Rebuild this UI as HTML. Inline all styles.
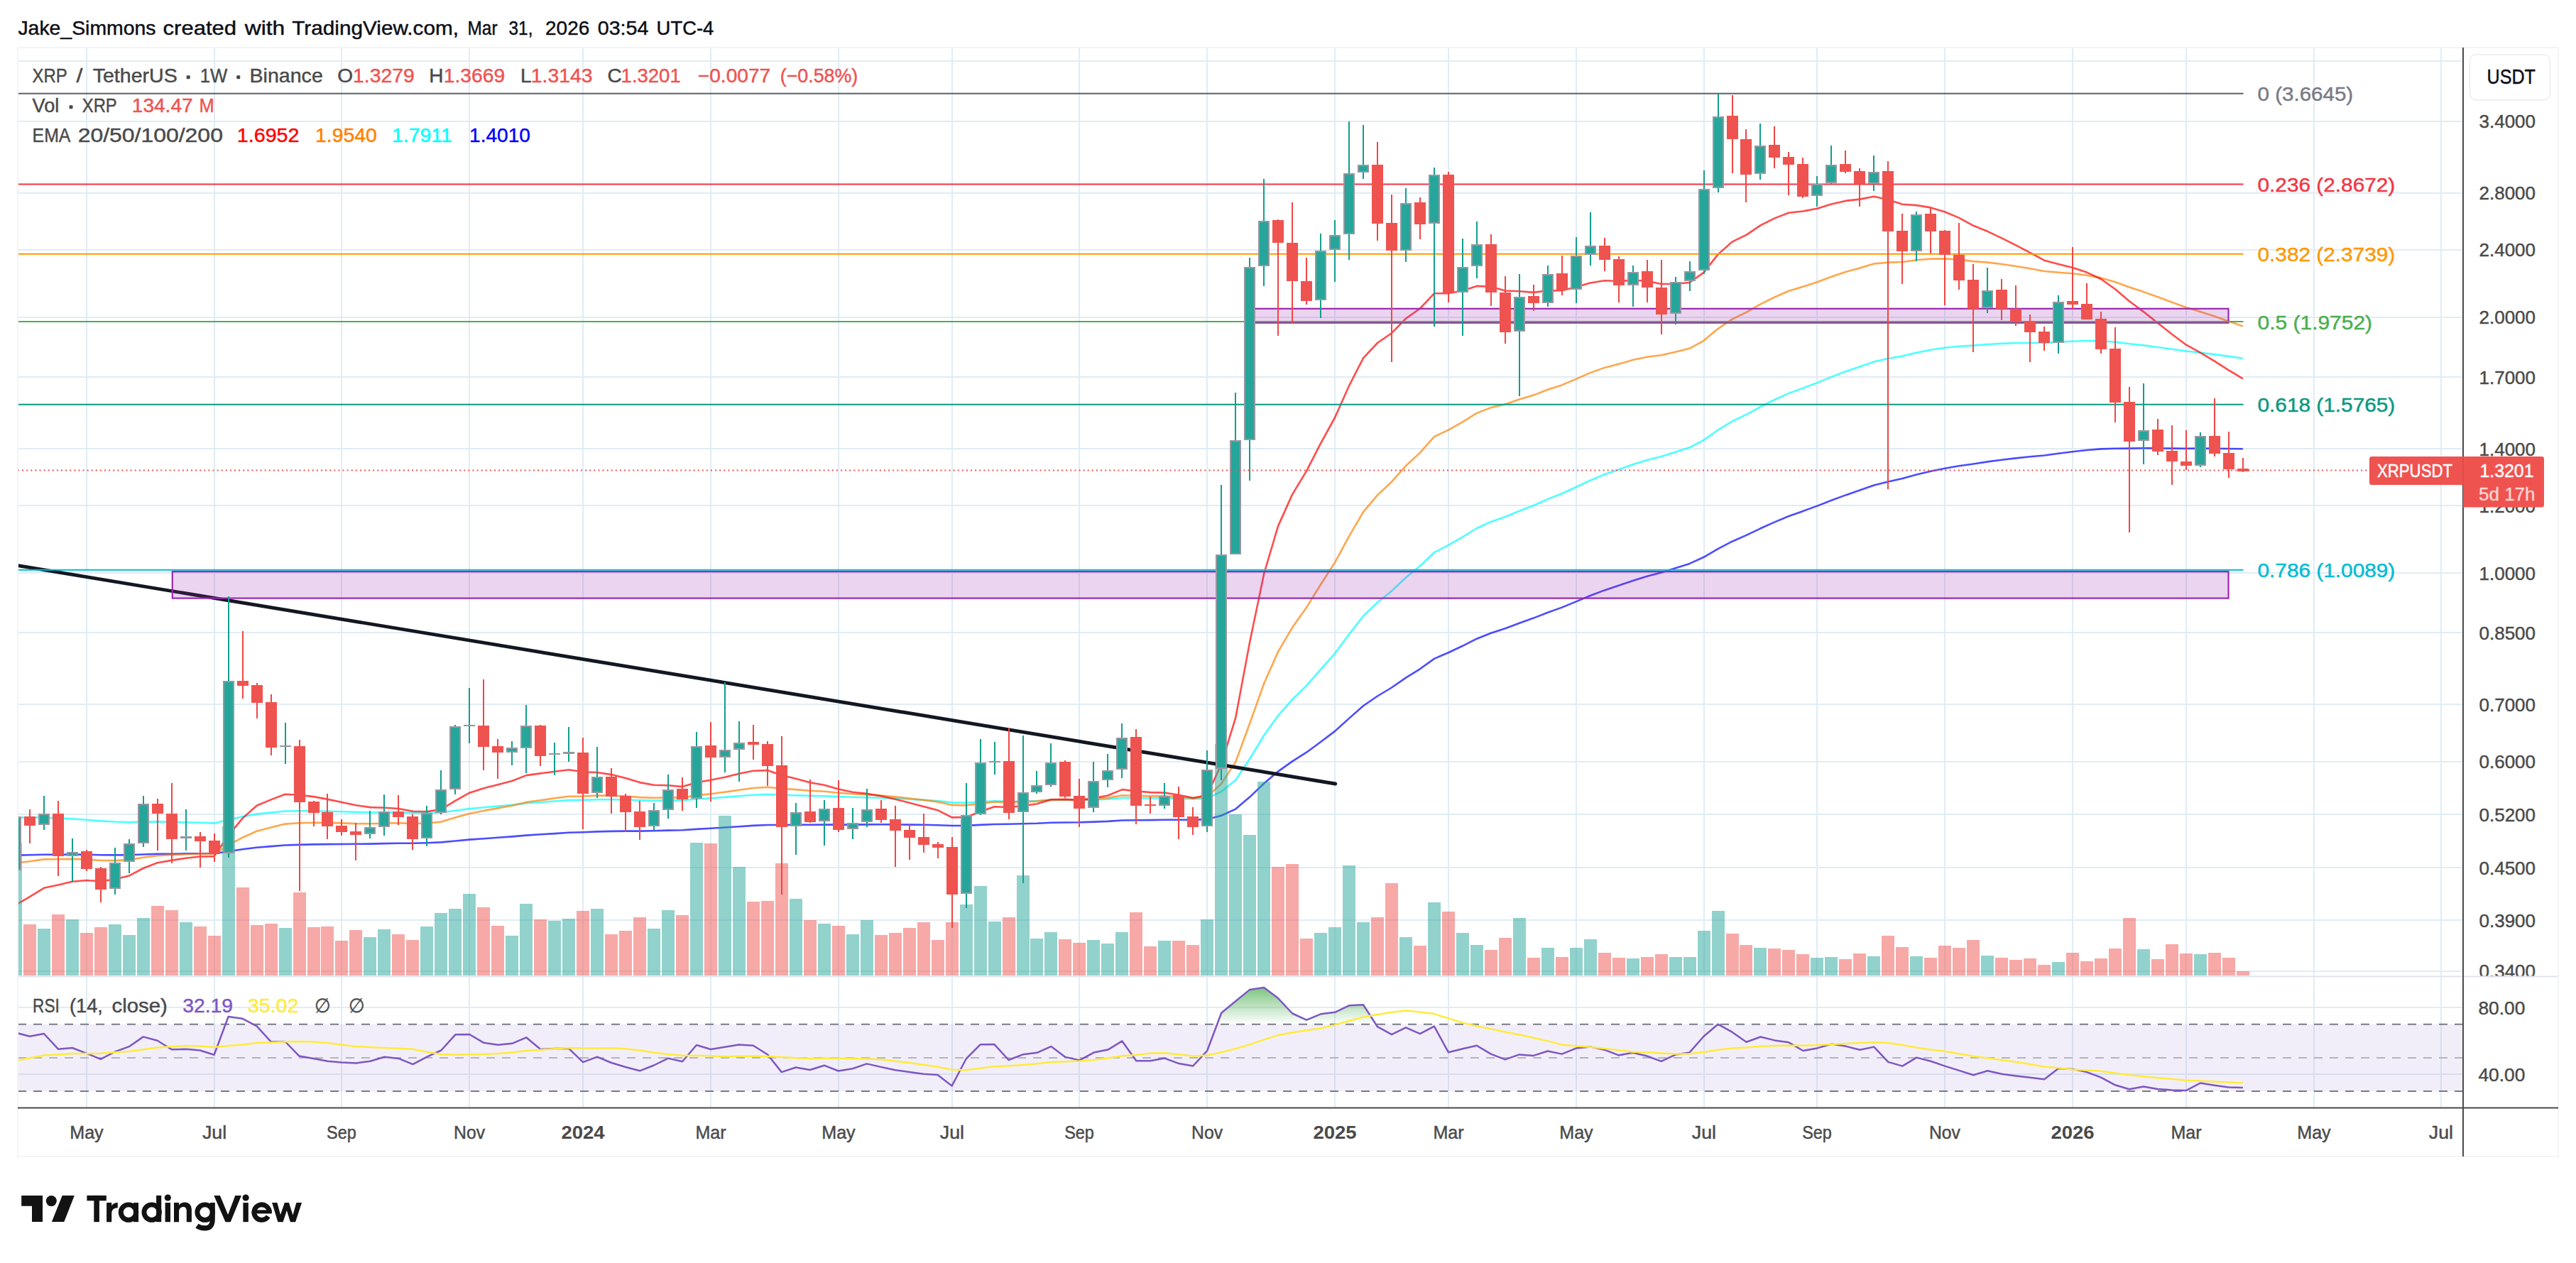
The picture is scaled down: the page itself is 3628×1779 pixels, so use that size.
<!DOCTYPE html>
<html><head><meta charset="utf-8"><title>XRPUSDT chart</title>
<style>html,body{margin:0;padding:0;background:#fff;overflow:hidden;width:3628px;height:1779px}svg{display:block}text{font-family:'Liberation Sans', sans-serif;}</style>
</head><body>
<svg width="3628" height="1779" viewBox="0 0 3628 1779">
<rect x="0" y="0" width="3628" height="1779" fill="#fff"/>
<rect x="25" y="67" width="3578" height="1562" fill="none" stroke="#f3f4f6" stroke-width="2"/>
<g stroke="#e1ecf4" stroke-width="2" shape-rendering="crispEdges">
<line x1="122" y1="68" x2="122" y2="1560"/>
<line x1="302" y1="68" x2="302" y2="1560"/>
<line x1="481" y1="68" x2="481" y2="1560"/>
<line x1="661" y1="68" x2="661" y2="1560"/>
<line x1="821" y1="68" x2="821" y2="1560"/>
<line x1="1001" y1="68" x2="1001" y2="1560"/>
<line x1="1181" y1="68" x2="1181" y2="1560"/>
<line x1="1341" y1="68" x2="1341" y2="1560"/>
<line x1="1520" y1="68" x2="1520" y2="1560"/>
<line x1="1700" y1="68" x2="1700" y2="1560"/>
<line x1="1880" y1="68" x2="1880" y2="1560"/>
<line x1="2040" y1="68" x2="2040" y2="1560"/>
<line x1="2220" y1="68" x2="2220" y2="1560"/>
<line x1="2400" y1="68" x2="2400" y2="1560"/>
<line x1="2559" y1="68" x2="2559" y2="1560"/>
<line x1="2739" y1="68" x2="2739" y2="1560"/>
<line x1="2919" y1="68" x2="2919" y2="1560"/>
<line x1="3079" y1="68" x2="3079" y2="1560"/>
<line x1="3259" y1="68" x2="3259" y2="1560"/>
<line x1="3438" y1="68" x2="3438" y2="1560"/>
<line x1="26" y1="86" x2="3469" y2="86"/>
<line x1="26" y1="171" x2="3469" y2="171"/>
<line x1="26" y1="272" x2="3469" y2="272"/>
<line x1="26" y1="352" x2="3469" y2="352"/>
<line x1="26" y1="447" x2="3469" y2="447"/>
<line x1="26" y1="531" x2="3469" y2="531"/>
<line x1="26" y1="632" x2="3469" y2="632"/>
<line x1="26" y1="712" x2="3469" y2="712"/>
<line x1="26" y1="807" x2="3469" y2="807"/>
<line x1="26" y1="891" x2="3469" y2="891"/>
<line x1="26" y1="992" x2="3469" y2="992"/>
<line x1="26" y1="1073" x2="3469" y2="1073"/>
<line x1="26" y1="1147" x2="3469" y2="1147"/>
<line x1="26" y1="1222" x2="3469" y2="1222"/>
<line x1="26" y1="1296" x2="3469" y2="1296"/>
<line x1="26" y1="1368" x2="3469" y2="1368"/>
<line x1="26" y1="1419" x2="3469" y2="1419"/>
<line x1="26" y1="1513" x2="3469" y2="1513"/>
</g>
<line x1="26" y1="1375.5" x2="3603" y2="1375.5" stroke="#e0e3eb" stroke-width="2"/>
<defs><clipPath id="cm"><rect x="26" y="68" width="3443" height="1306.5"/></clipPath><clipPath id="cr"><rect x="26" y="1376.5" width="3443" height="183.0"/></clipPath><linearGradient id="gg" gradientUnits="userSpaceOnUse" x1="0" y1="1372.0" x2="0" y2="1442.7"><stop offset="0" stop-color="#4caf50" stop-opacity="1"/><stop offset="1" stop-color="#4caf50" stop-opacity="0"/></linearGradient></defs>
<g clip-path="url(#cm)">
<polyline points="21.9,1204.7 41.9,1204.3 61.9,1203.7 81.9,1203.7 101.8,1203.6 121.8,1203.8 141.8,1204.3 161.8,1204.4 181.8,1204.2 201.7,1203.5 221.7,1202.9 241.7,1202.7 261.7,1202.4 281.7,1202.2 301.6,1202.3 321.6,1199.2 341.6,1196.3 361.6,1193.7 381.6,1192.1 401.5,1190.5 421.5,1189.9 441.5,1189.4 461.5,1189.1 481.5,1189.0 501.4,1188.8 521.4,1188.6 541.4,1188.1 561.4,1187.7 581.4,1187.7 601.3,1187.2 621.3,1186.4 641.3,1184.5 661.3,1182.6 681.3,1181.2 701.2,1179.8 721.2,1178.4 741.2,1176.6 761.2,1175.3 781.2,1174.1 801.1,1172.8 821.1,1172.2 841.1,1171.4 861.1,1170.9 881.1,1170.6 901.0,1170.6 921.0,1170.3 941.0,1169.6 961.0,1169.2 981.0,1167.9 1000.9,1166.8 1020.9,1165.5 1040.9,1164.2 1060.9,1162.9 1080.9,1162.0 1100.8,1162.0 1120.8,1161.8 1140.8,1161.8 1160.8,1161.6 1180.8,1161.6 1200.7,1161.6 1220.7,1161.4 1240.7,1161.3 1260.7,1161.4 1280.7,1161.6 1300.6,1161.8 1320.6,1162.2 1340.6,1163.0 1360.6,1162.9 1380.6,1161.9 1400.5,1161.0 1420.5,1160.8 1440.5,1160.3 1460.5,1159.8 1480.5,1158.8 1500.4,1158.5 1520.4,1158.3 1540.4,1157.6 1560.4,1156.9 1580.4,1155.5 1600.3,1155.3 1620.3,1155.1 1640.3,1154.8 1660.3,1154.7 1680.3,1154.8 1700.2,1154.1 1720.2,1148.7 1740.2,1139.6 1760.2,1122.6 1780.2,1103.5 1800.1,1086.6 1820.1,1072.4 1840.1,1059.7 1860.1,1045.0 1880.1,1029.9 1900.0,1011.9 1920.0,994.2 1940.0,980.5 1960.0,968.5 1980.0,954.6 1999.9,942.3 2019.9,927.9 2039.9,919.2 2059.9,909.8 2079.9,899.7 2099.8,891.7 2119.8,885.2 2139.8,877.7 2159.8,870.6 2179.8,862.7 2199.7,855.6 2219.7,847.4 2239.7,839.0 2259.7,831.4 2279.7,824.8 2299.6,817.9 2319.6,811.7 2339.6,806.4 2359.6,800.2 2379.6,793.9 2399.5,784.8 2419.5,773.1 2439.5,762.7 2459.5,753.9 2479.5,744.3 2499.4,735.4 2519.4,727.0 2539.4,719.9 2559.4,712.6 2579.4,704.8 2599.3,697.4 2619.3,690.6 2639.3,683.6 2659.3,678.5 2679.3,674.0 2699.2,668.6 2719.2,663.8 2739.2,659.7 2759.2,656.3 2779.2,653.5 2799.1,650.4 2819.1,647.8 2839.1,645.4 2859.1,643.3 2879.1,641.5 2899.0,638.8 2919.0,636.2 2939.0,634.0 2959.0,632.4 2979.0,631.7 2998.9,631.6 3018.9,631.3 3038.9,631.4 3058.9,631.6 3078.9,631.8 3098.8,631.6 3118.8,631.7 3138.8,632.0 3158.8,632.3" fill="none" stroke="#0000ff" stroke-opacity="0.7" stroke-width="2.6" stroke-linejoin="round"/>
<polyline points="21.9,1151.3 41.9,1151.5 61.9,1151.4 81.9,1152.5 101.8,1153.4 121.8,1154.7 141.8,1156.4 161.8,1157.5 181.8,1158.1 201.7,1157.6 221.7,1157.4 241.7,1157.8 261.7,1158.3 281.7,1158.8 301.6,1159.6 321.6,1154.8 341.6,1150.3 361.6,1146.6 381.6,1144.6 401.5,1142.5 421.5,1142.3 441.5,1142.3 461.5,1142.7 481.5,1143.3 501.4,1143.9 521.4,1144.3 541.4,1144.3 561.4,1144.4 581.4,1145.2 601.3,1145.2 621.3,1144.5 641.3,1141.8 661.3,1139.1 681.3,1137.3 701.2,1135.6 721.2,1133.8 741.2,1131.4 761.2,1130.0 781.2,1128.5 801.1,1127.1 821.1,1126.9 841.1,1126.3 861.1,1126.2 881.1,1126.5 901.0,1127.2 921.0,1127.5 941.0,1127.2 961.0,1127.2 981.0,1125.5 1000.9,1124.3 1020.9,1122.9 1040.9,1121.2 1060.9,1119.7 1080.9,1118.8 1100.8,1119.7 1120.8,1120.2 1140.8,1120.9 1160.8,1121.2 1180.8,1122.1 1200.7,1122.8 1220.7,1123.2 1240.7,1123.8 1260.7,1124.6 1280.7,1125.7 1300.6,1126.9 1320.6,1128.1 1340.6,1130.4 1360.6,1130.8 1380.6,1129.6 1400.5,1128.4 1420.5,1128.7 1440.5,1128.5 1460.5,1128.0 1480.5,1126.9 1500.4,1126.8 1520.4,1127.0 1540.4,1126.5 1560.4,1125.6 1580.4,1123.7 1600.3,1124.0 1620.3,1124.2 1640.3,1124.1 1660.3,1124.6 1680.3,1125.4 1700.2,1124.5 1720.2,1115.0 1740.2,1098.8 1760.2,1068.7 1780.2,1035.8 1800.1,1007.8 1820.1,985.2 1840.1,965.6 1860.1,942.9 1880.1,920.3 1900.0,893.4 1920.0,867.7 1940.0,848.5 1960.0,832.4 1980.0,813.5 1999.9,797.3 2019.9,778.2 2039.9,767.8 2059.9,756.3 2079.9,744.0 2099.8,734.9 2119.8,728.0 2139.8,719.7 2159.8,712.0 2179.8,703.1 2199.7,695.3 2219.7,686.0 2239.7,676.6 2259.7,668.3 2279.7,661.4 2299.6,654.2 2319.6,647.9 2339.6,642.9 2359.6,636.7 2379.6,630.3 2399.5,619.9 2419.5,605.7 2439.5,593.5 2459.5,583.8 2479.5,572.8 2499.4,563.0 2519.4,553.9 2539.4,546.7 2559.4,539.1 2579.4,530.9 2599.3,523.3 2619.3,516.5 2639.3,509.4 2659.3,505.0 2679.3,501.6 2699.2,496.8 2719.2,492.8 2739.2,489.8 2759.2,487.7 2779.2,486.6 2799.1,485.0 2819.1,483.9 2839.1,483.3 2859.1,483.0 2879.1,483.0 2899.0,481.8 2919.0,480.7 2939.0,480.0 2959.0,480.2 2979.0,481.8 2998.9,484.3 3018.9,486.4 3038.9,489.0 3058.9,491.7 3078.9,494.5 3098.8,496.7 3118.8,499.1 3138.8,501.9 3158.8,504.7" fill="none" stroke="#00ffff" stroke-opacity="0.7" stroke-width="2.6" stroke-linejoin="round"/>
<polyline points="21.9,1215.4 41.9,1213.2 61.9,1210.4 81.9,1210.3 101.8,1209.9 121.8,1210.4 141.8,1212.0 161.8,1212.1 181.8,1211.1 201.7,1207.8 221.7,1205.3 241.7,1204.3 261.7,1203.3 281.7,1202.6 301.6,1202.6 321.6,1190.6 341.6,1179.7 361.6,1170.7 381.6,1165.6 401.5,1160.6 421.5,1159.3 441.5,1158.8 461.5,1158.9 481.5,1159.4 501.4,1160.1 521.4,1160.3 541.4,1159.6 561.4,1159.2 581.4,1160.1 601.3,1159.5 621.3,1157.6 641.3,1151.6 661.3,1145.9 681.3,1141.9 701.2,1138.4 721.2,1134.8 741.2,1129.9 761.2,1127.2 781.2,1124.4 801.1,1121.8 821.1,1121.6 841.1,1120.5 861.1,1120.6 881.1,1121.5 901.0,1123.1 921.0,1123.8 941.0,1123.3 961.0,1123.4 981.0,1120.4 1000.9,1118.2 1020.9,1115.6 1040.9,1112.7 1060.9,1110.0 1080.9,1108.7 1100.8,1110.8 1120.8,1112.1 1140.8,1113.8 1160.8,1114.7 1180.8,1116.8 1200.7,1118.3 1220.7,1119.2 1240.7,1120.5 1260.7,1122.4 1280.7,1124.5 1300.6,1126.9 1320.6,1129.4 1340.6,1133.9 1360.6,1134.4 1380.6,1132.0 1400.5,1129.5 1420.5,1130.1 1440.5,1129.6 1460.5,1128.6 1480.5,1126.4 1500.4,1126.2 1520.4,1126.7 1540.4,1125.6 1560.4,1123.9 1580.4,1120.3 1600.3,1120.9 1620.3,1121.4 1640.3,1121.4 1660.3,1122.5 1680.3,1124.1 1700.2,1122.4 1720.2,1103.8 1740.2,1073.4 1760.2,1018.8 1780.2,962.7 1800.1,917.9 1820.1,883.8 1840.1,855.6 1860.1,823.3 1880.1,792.1 1900.0,755.3 1920.0,721.1 1940.0,697.4 1960.0,678.7 1980.0,656.1 1999.9,637.6 2019.9,615.2 2039.9,605.6 2059.9,594.4 2079.9,581.9 2099.8,574.1 2119.8,569.5 2139.8,562.6 2159.8,556.6 2179.8,548.7 2199.7,542.4 2219.7,533.9 2239.7,525.1 2259.7,517.9 2279.7,512.8 2299.6,507.1 2319.6,502.7 2339.6,500.2 2359.6,495.7 2379.6,490.8 2399.5,479.8 2419.5,463.1 2439.5,449.6 2459.5,439.9 2479.5,428.3 2499.4,418.5 2519.4,409.7 2539.4,403.8 2559.4,397.3 2579.4,389.7 2599.3,383.0 2619.3,377.6 2639.3,371.5 2659.3,369.6 2679.3,369.0 2699.2,366.2 2719.2,364.6 2739.2,364.4 2759.2,365.5 2779.2,368.1 2799.1,369.6 2819.1,372.0 2839.1,375.0 2859.1,378.3 2879.1,382.0 2899.0,383.7 2919.0,385.3 2939.0,387.7 2959.0,391.4 2979.0,397.3 2998.9,404.5 3018.9,411.1 3038.9,418.3 3058.9,425.7 3078.9,433.0 3098.8,439.1 3118.8,445.6 3138.8,452.6 3158.8,459.4" fill="none" stroke="#ff8000" stroke-opacity="0.7" stroke-width="2.6" stroke-linejoin="round"/>
<polyline points="21.9,1274.9 41.9,1263.1 61.9,1250.8 81.9,1246.4 101.8,1241.8 121.8,1240.0 141.8,1241.2 161.8,1238.6 181.8,1233.6 201.7,1223.0 221.7,1215.2 241.7,1211.9 261.7,1208.8 281.7,1206.5 301.6,1206.1 321.6,1176.9 341.6,1152.6 361.6,1134.7 381.6,1126.4 401.5,1118.7 421.5,1119.7 441.5,1122.1 461.5,1125.9 481.5,1130.1 501.4,1134.3 521.4,1137.1 541.4,1137.7 561.4,1139.0 581.4,1142.9 601.3,1143.1 621.3,1140.1 641.3,1127.8 661.3,1116.7 681.3,1110.2 701.2,1105.2 721.2,1100.0 741.2,1092.1 761.2,1089.4 781.2,1086.7 801.1,1084.2 821.1,1087.3 841.1,1088.0 861.1,1091.1 881.1,1095.9 901.0,1102.1 921.0,1105.7 941.0,1106.2 961.0,1108.1 981.0,1102.3 1000.9,1098.8 1020.9,1094.7 1040.9,1089.8 1060.9,1085.7 1080.9,1085.1 1100.8,1092.1 1120.8,1096.8 1140.8,1102.3 1160.8,1105.7 1180.8,1111.4 1200.7,1115.7 1220.7,1117.9 1240.7,1121.3 1260.7,1125.7 1280.7,1130.7 1300.6,1136.0 1320.6,1141.2 1340.6,1151.4 1360.6,1151.1 1380.6,1143.3 1400.5,1136.2 1420.5,1137.0 1440.5,1135.0 1460.5,1132.2 1480.5,1126.3 1500.4,1125.9 1520.4,1127.1 1540.4,1124.4 1560.4,1120.5 1580.4,1112.1 1600.3,1114.2 1620.3,1116.1 1640.3,1116.6 1660.3,1119.7 1680.3,1123.9 1700.2,1119.9 1720.2,1076.2 1740.2,1011.0 1760.2,904.2 1780.2,808.1 1800.1,740.9 1820.1,696.4 1840.1,663.3 1860.1,624.3 1880.1,588.0 1900.0,543.5 1920.0,504.4 1940.0,483.0 1960.0,469.2 1980.0,448.7 1999.9,434.5 2019.9,413.3 2039.9,413.2 2059.9,409.5 2079.9,402.9 2099.8,403.8 2119.8,409.5 2139.8,410.3 2159.8,411.9 2179.8,409.4 2199.7,409.3 2219.7,404.3 2239.7,398.5 2259.7,395.3 2279.7,396.0 2299.6,394.7 2319.6,395.7 2339.6,400.0 2359.6,399.7 2379.6,398.0 2399.5,383.9 2419.5,358.4 2439.5,340.6 2459.5,330.8 2479.5,317.4 2499.4,307.4 2519.4,299.7 2539.4,297.5 2559.4,293.7 2579.4,287.5 2599.3,282.9 2619.3,280.6 2639.3,276.8 2659.3,281.2 2679.3,287.8 2699.2,289.1 2719.2,292.4 2739.2,298.5 2759.2,306.9 2779.2,317.8 2799.1,325.8 2819.1,335.3 2839.1,345.4 2859.1,355.9 2879.1,366.7 2899.0,372.0 2919.0,377.1 2939.0,383.6 2959.0,393.0 2979.0,407.3 2998.9,424.3 3018.9,439.1 3038.9,454.9 3058.9,470.7 3078.9,485.7 3098.8,496.7 3118.8,508.6 3138.8,521.4 3158.8,533.4" fill="none" stroke="#ff0000" stroke-opacity="0.7" stroke-width="2.6" stroke-linejoin="round"/>
<g shape-rendering="crispEdges">
<rect x="13" y="1188" width="18" height="186" fill="#26a69a" fill-opacity="0.5"/>
<rect x="33" y="1302" width="18" height="72" fill="#ef5350" fill-opacity="0.5"/>
<rect x="53" y="1308" width="18" height="66" fill="#26a69a" fill-opacity="0.5"/>
<rect x="73" y="1288" width="18" height="86" fill="#ef5350" fill-opacity="0.5"/>
<rect x="93" y="1295" width="18" height="79" fill="#26a69a" fill-opacity="0.5"/>
<rect x="113" y="1314" width="18" height="60" fill="#ef5350" fill-opacity="0.5"/>
<rect x="133" y="1306" width="18" height="68" fill="#ef5350" fill-opacity="0.5"/>
<rect x="153" y="1302" width="18" height="72" fill="#26a69a" fill-opacity="0.5"/>
<rect x="173" y="1317" width="18" height="57" fill="#26a69a" fill-opacity="0.5"/>
<rect x="193" y="1293" width="18" height="81" fill="#26a69a" fill-opacity="0.5"/>
<rect x="213" y="1276" width="18" height="98" fill="#ef5350" fill-opacity="0.5"/>
<rect x="233" y="1282" width="18" height="92" fill="#ef5350" fill-opacity="0.5"/>
<rect x="253" y="1299" width="18" height="75" fill="#26a69a" fill-opacity="0.5"/>
<rect x="273" y="1305" width="18" height="69" fill="#ef5350" fill-opacity="0.5"/>
<rect x="293" y="1318" width="18" height="56" fill="#ef5350" fill-opacity="0.5"/>
<rect x="313" y="1164" width="18" height="210" fill="#26a69a" fill-opacity="0.5"/>
<rect x="333" y="1250" width="18" height="124" fill="#ef5350" fill-opacity="0.5"/>
<rect x="353" y="1303" width="18" height="71" fill="#ef5350" fill-opacity="0.5"/>
<rect x="373" y="1301" width="18" height="73" fill="#ef5350" fill-opacity="0.5"/>
<rect x="393" y="1307" width="18" height="67" fill="#26a69a" fill-opacity="0.5"/>
<rect x="413" y="1257" width="18" height="117" fill="#ef5350" fill-opacity="0.5"/>
<rect x="433" y="1306" width="18" height="68" fill="#ef5350" fill-opacity="0.5"/>
<rect x="452" y="1305" width="18" height="69" fill="#ef5350" fill-opacity="0.5"/>
<rect x="472" y="1325" width="18" height="49" fill="#ef5350" fill-opacity="0.5"/>
<rect x="492" y="1310" width="18" height="64" fill="#ef5350" fill-opacity="0.5"/>
<rect x="512" y="1320" width="18" height="54" fill="#26a69a" fill-opacity="0.5"/>
<rect x="532" y="1309" width="18" height="65" fill="#26a69a" fill-opacity="0.5"/>
<rect x="552" y="1316" width="18" height="58" fill="#ef5350" fill-opacity="0.5"/>
<rect x="572" y="1324" width="18" height="50" fill="#ef5350" fill-opacity="0.5"/>
<rect x="592" y="1305" width="18" height="69" fill="#26a69a" fill-opacity="0.5"/>
<rect x="612" y="1286" width="18" height="88" fill="#26a69a" fill-opacity="0.5"/>
<rect x="632" y="1280" width="18" height="94" fill="#26a69a" fill-opacity="0.5"/>
<rect x="652" y="1259" width="18" height="115" fill="#26a69a" fill-opacity="0.5"/>
<rect x="672" y="1278" width="18" height="96" fill="#ef5350" fill-opacity="0.5"/>
<rect x="692" y="1304" width="18" height="70" fill="#ef5350" fill-opacity="0.5"/>
<rect x="712" y="1318" width="18" height="56" fill="#26a69a" fill-opacity="0.5"/>
<rect x="732" y="1273" width="18" height="101" fill="#26a69a" fill-opacity="0.5"/>
<rect x="752" y="1295" width="18" height="79" fill="#ef5350" fill-opacity="0.5"/>
<rect x="772" y="1297" width="18" height="77" fill="#26a69a" fill-opacity="0.5"/>
<rect x="792" y="1294" width="18" height="80" fill="#26a69a" fill-opacity="0.5"/>
<rect x="812" y="1283" width="18" height="91" fill="#ef5350" fill-opacity="0.5"/>
<rect x="832" y="1280" width="18" height="94" fill="#26a69a" fill-opacity="0.5"/>
<rect x="852" y="1316" width="18" height="58" fill="#ef5350" fill-opacity="0.5"/>
<rect x="872" y="1311" width="18" height="63" fill="#ef5350" fill-opacity="0.5"/>
<rect x="892" y="1292" width="18" height="82" fill="#ef5350" fill-opacity="0.5"/>
<rect x="912" y="1308" width="18" height="66" fill="#26a69a" fill-opacity="0.5"/>
<rect x="932" y="1282" width="18" height="92" fill="#26a69a" fill-opacity="0.5"/>
<rect x="952" y="1289" width="18" height="85" fill="#ef5350" fill-opacity="0.5"/>
<rect x="972" y="1187" width="18" height="187" fill="#26a69a" fill-opacity="0.5"/>
<rect x="992" y="1188" width="18" height="186" fill="#ef5350" fill-opacity="0.5"/>
<rect x="1012" y="1149" width="18" height="225" fill="#26a69a" fill-opacity="0.5"/>
<rect x="1032" y="1221" width="18" height="153" fill="#26a69a" fill-opacity="0.5"/>
<rect x="1052" y="1270" width="18" height="104" fill="#ef5350" fill-opacity="0.5"/>
<rect x="1072" y="1269" width="18" height="105" fill="#ef5350" fill-opacity="0.5"/>
<rect x="1092" y="1216" width="18" height="158" fill="#ef5350" fill-opacity="0.5"/>
<rect x="1112" y="1266" width="18" height="108" fill="#26a69a" fill-opacity="0.5"/>
<rect x="1132" y="1296" width="18" height="78" fill="#ef5350" fill-opacity="0.5"/>
<rect x="1152" y="1301" width="18" height="73" fill="#26a69a" fill-opacity="0.5"/>
<rect x="1172" y="1304" width="18" height="70" fill="#ef5350" fill-opacity="0.5"/>
<rect x="1192" y="1316" width="18" height="58" fill="#26a69a" fill-opacity="0.5"/>
<rect x="1212" y="1296" width="18" height="78" fill="#26a69a" fill-opacity="0.5"/>
<rect x="1232" y="1317" width="18" height="57" fill="#ef5350" fill-opacity="0.5"/>
<rect x="1252" y="1314" width="18" height="60" fill="#ef5350" fill-opacity="0.5"/>
<rect x="1272" y="1307" width="18" height="67" fill="#ef5350" fill-opacity="0.5"/>
<rect x="1292" y="1299" width="18" height="75" fill="#ef5350" fill-opacity="0.5"/>
<rect x="1312" y="1324" width="18" height="50" fill="#ef5350" fill-opacity="0.5"/>
<rect x="1332" y="1299" width="18" height="75" fill="#ef5350" fill-opacity="0.5"/>
<rect x="1352" y="1274" width="18" height="100" fill="#26a69a" fill-opacity="0.5"/>
<rect x="1372" y="1248" width="18" height="126" fill="#26a69a" fill-opacity="0.5"/>
<rect x="1392" y="1298" width="18" height="76" fill="#26a69a" fill-opacity="0.5"/>
<rect x="1412" y="1292" width="18" height="82" fill="#ef5350" fill-opacity="0.5"/>
<rect x="1432" y="1233" width="18" height="141" fill="#26a69a" fill-opacity="0.5"/>
<rect x="1451" y="1322" width="18" height="52" fill="#26a69a" fill-opacity="0.5"/>
<rect x="1471" y="1313" width="18" height="61" fill="#26a69a" fill-opacity="0.5"/>
<rect x="1491" y="1323" width="18" height="51" fill="#ef5350" fill-opacity="0.5"/>
<rect x="1511" y="1328" width="18" height="46" fill="#ef5350" fill-opacity="0.5"/>
<rect x="1531" y="1324" width="18" height="50" fill="#26a69a" fill-opacity="0.5"/>
<rect x="1551" y="1329" width="18" height="45" fill="#26a69a" fill-opacity="0.5"/>
<rect x="1571" y="1313" width="18" height="61" fill="#26a69a" fill-opacity="0.5"/>
<rect x="1591" y="1285" width="18" height="89" fill="#ef5350" fill-opacity="0.5"/>
<rect x="1611" y="1333" width="18" height="41" fill="#ef5350" fill-opacity="0.5"/>
<rect x="1631" y="1325" width="18" height="49" fill="#26a69a" fill-opacity="0.5"/>
<rect x="1651" y="1325" width="18" height="49" fill="#ef5350" fill-opacity="0.5"/>
<rect x="1671" y="1331" width="18" height="43" fill="#ef5350" fill-opacity="0.5"/>
<rect x="1691" y="1295" width="18" height="79" fill="#26a69a" fill-opacity="0.5"/>
<rect x="1711" y="1048" width="18" height="326" fill="#26a69a" fill-opacity="0.5"/>
<rect x="1731" y="1147" width="18" height="227" fill="#26a69a" fill-opacity="0.5"/>
<rect x="1751" y="1176" width="18" height="198" fill="#26a69a" fill-opacity="0.5"/>
<rect x="1771" y="1101" width="18" height="273" fill="#26a69a" fill-opacity="0.5"/>
<rect x="1791" y="1221" width="18" height="153" fill="#ef5350" fill-opacity="0.5"/>
<rect x="1811" y="1217" width="18" height="157" fill="#ef5350" fill-opacity="0.5"/>
<rect x="1831" y="1322" width="18" height="52" fill="#ef5350" fill-opacity="0.5"/>
<rect x="1851" y="1314" width="18" height="60" fill="#26a69a" fill-opacity="0.5"/>
<rect x="1871" y="1306" width="18" height="68" fill="#26a69a" fill-opacity="0.5"/>
<rect x="1891" y="1219" width="18" height="155" fill="#26a69a" fill-opacity="0.5"/>
<rect x="1911" y="1299" width="18" height="75" fill="#26a69a" fill-opacity="0.5"/>
<rect x="1931" y="1292" width="18" height="82" fill="#ef5350" fill-opacity="0.5"/>
<rect x="1951" y="1244" width="18" height="130" fill="#ef5350" fill-opacity="0.5"/>
<rect x="1971" y="1320" width="18" height="54" fill="#26a69a" fill-opacity="0.5"/>
<rect x="1991" y="1332" width="18" height="42" fill="#ef5350" fill-opacity="0.5"/>
<rect x="2011" y="1271" width="18" height="103" fill="#26a69a" fill-opacity="0.5"/>
<rect x="2031" y="1284" width="18" height="90" fill="#ef5350" fill-opacity="0.5"/>
<rect x="2051" y="1314" width="18" height="60" fill="#26a69a" fill-opacity="0.5"/>
<rect x="2071" y="1331" width="18" height="43" fill="#26a69a" fill-opacity="0.5"/>
<rect x="2091" y="1338" width="18" height="36" fill="#ef5350" fill-opacity="0.5"/>
<rect x="2111" y="1321" width="18" height="53" fill="#ef5350" fill-opacity="0.5"/>
<rect x="2131" y="1293" width="18" height="81" fill="#26a69a" fill-opacity="0.5"/>
<rect x="2151" y="1349" width="18" height="25" fill="#ef5350" fill-opacity="0.5"/>
<rect x="2171" y="1335" width="18" height="39" fill="#26a69a" fill-opacity="0.5"/>
<rect x="2191" y="1348" width="18" height="26" fill="#ef5350" fill-opacity="0.5"/>
<rect x="2211" y="1335" width="18" height="39" fill="#26a69a" fill-opacity="0.5"/>
<rect x="2231" y="1323" width="18" height="51" fill="#26a69a" fill-opacity="0.5"/>
<rect x="2251" y="1342" width="18" height="32" fill="#ef5350" fill-opacity="0.5"/>
<rect x="2271" y="1349" width="18" height="25" fill="#ef5350" fill-opacity="0.5"/>
<rect x="2291" y="1350" width="18" height="24" fill="#26a69a" fill-opacity="0.5"/>
<rect x="2311" y="1348" width="18" height="26" fill="#ef5350" fill-opacity="0.5"/>
<rect x="2331" y="1344" width="18" height="30" fill="#ef5350" fill-opacity="0.5"/>
<rect x="2351" y="1348" width="18" height="26" fill="#26a69a" fill-opacity="0.5"/>
<rect x="2371" y="1348" width="18" height="26" fill="#26a69a" fill-opacity="0.5"/>
<rect x="2391" y="1311" width="18" height="63" fill="#26a69a" fill-opacity="0.5"/>
<rect x="2411" y="1283" width="18" height="91" fill="#26a69a" fill-opacity="0.5"/>
<rect x="2431" y="1315" width="18" height="59" fill="#ef5350" fill-opacity="0.5"/>
<rect x="2450" y="1331" width="18" height="43" fill="#ef5350" fill-opacity="0.5"/>
<rect x="2470" y="1335" width="18" height="39" fill="#26a69a" fill-opacity="0.5"/>
<rect x="2490" y="1336" width="18" height="38" fill="#ef5350" fill-opacity="0.5"/>
<rect x="2510" y="1338" width="18" height="36" fill="#ef5350" fill-opacity="0.5"/>
<rect x="2530" y="1344" width="18" height="30" fill="#ef5350" fill-opacity="0.5"/>
<rect x="2550" y="1349" width="18" height="25" fill="#26a69a" fill-opacity="0.5"/>
<rect x="2570" y="1348" width="18" height="26" fill="#26a69a" fill-opacity="0.5"/>
<rect x="2590" y="1351" width="18" height="23" fill="#ef5350" fill-opacity="0.5"/>
<rect x="2610" y="1343" width="18" height="31" fill="#ef5350" fill-opacity="0.5"/>
<rect x="2630" y="1347" width="18" height="27" fill="#26a69a" fill-opacity="0.5"/>
<rect x="2650" y="1318" width="18" height="56" fill="#ef5350" fill-opacity="0.5"/>
<rect x="2670" y="1334" width="18" height="40" fill="#ef5350" fill-opacity="0.5"/>
<rect x="2690" y="1347" width="18" height="27" fill="#26a69a" fill-opacity="0.5"/>
<rect x="2710" y="1349" width="18" height="25" fill="#ef5350" fill-opacity="0.5"/>
<rect x="2730" y="1332" width="18" height="42" fill="#ef5350" fill-opacity="0.5"/>
<rect x="2750" y="1335" width="18" height="39" fill="#ef5350" fill-opacity="0.5"/>
<rect x="2770" y="1324" width="18" height="50" fill="#ef5350" fill-opacity="0.5"/>
<rect x="2790" y="1346" width="18" height="28" fill="#26a69a" fill-opacity="0.5"/>
<rect x="2810" y="1349" width="18" height="25" fill="#ef5350" fill-opacity="0.5"/>
<rect x="2830" y="1352" width="18" height="22" fill="#ef5350" fill-opacity="0.5"/>
<rect x="2850" y="1350" width="18" height="24" fill="#ef5350" fill-opacity="0.5"/>
<rect x="2870" y="1359" width="18" height="15" fill="#ef5350" fill-opacity="0.5"/>
<rect x="2890" y="1355" width="18" height="19" fill="#26a69a" fill-opacity="0.5"/>
<rect x="2910" y="1342" width="18" height="32" fill="#ef5350" fill-opacity="0.5"/>
<rect x="2930" y="1354" width="18" height="20" fill="#ef5350" fill-opacity="0.5"/>
<rect x="2950" y="1350" width="18" height="24" fill="#ef5350" fill-opacity="0.5"/>
<rect x="2970" y="1336" width="18" height="38" fill="#ef5350" fill-opacity="0.5"/>
<rect x="2990" y="1293" width="18" height="81" fill="#ef5350" fill-opacity="0.5"/>
<rect x="3010" y="1337" width="18" height="37" fill="#26a69a" fill-opacity="0.5"/>
<rect x="3030" y="1351" width="18" height="23" fill="#ef5350" fill-opacity="0.5"/>
<rect x="3050" y="1330" width="18" height="44" fill="#ef5350" fill-opacity="0.5"/>
<rect x="3070" y="1343" width="18" height="31" fill="#ef5350" fill-opacity="0.5"/>
<rect x="3090" y="1344" width="18" height="30" fill="#26a69a" fill-opacity="0.5"/>
<rect x="3110" y="1342" width="18" height="32" fill="#ef5350" fill-opacity="0.5"/>
<rect x="3130" y="1349" width="18" height="25" fill="#ef5350" fill-opacity="0.5"/>
<rect x="3150" y="1368" width="18" height="6" fill="#ef5350" fill-opacity="0.5"/>
</g>
<line x1="20" y1="795.8" x2="1880.7" y2="1104.0" stroke="#131722" stroke-width="4.9" stroke-linecap="round"/>
<rect x="242.8" y="805.1" width="2895.7" height="37.5" fill="#9c27b0" fill-opacity="0.2" stroke="#9c27b0" stroke-width="2.2"/>
<rect x="1766" y="434.8" width="1372.5" height="19.899999999999977" fill="#9c27b0" fill-opacity="0.2" stroke="#9c27b0" stroke-width="2.2"/>
<line x1="25" y1="131.8" x2="3159.5" y2="131.8" stroke="#5d606b" stroke-width="2"/>
<line x1="25" y1="259.4" x2="3159.5" y2="259.4" stroke="#f23645" stroke-width="2"/>
<line x1="25" y1="357.8" x2="3159.5" y2="357.8" stroke="#ff9800" stroke-width="2"/>
<line x1="25" y1="453.1" x2="3159.5" y2="453.1" stroke="#4caf50" stroke-width="2"/>
<line x1="25" y1="569.8" x2="3159.5" y2="569.8" stroke="#089981" stroke-width="2"/>
<line x1="25" y1="802.8" x2="3159.5" y2="802.8" stroke="#00bcd4" stroke-width="2"/>
<g shape-rendering="crispEdges">
<rect x="15" y="1150.5" width="14" height="74.5" fill="#26a69a" stroke="#9598a1" stroke-width="2"/>
<rect x="41" y="1140" width="2" height="48" fill="#ef4744"/>
<rect x="34" y="1150" width="16" height="13" fill="#ef5350"/>
<rect x="61" y="1121" width="2" height="25" fill="#139e8e"/><rect x="61" y="1162" width="2" height="7" fill="#139e8e"/>
<rect x="55" y="1147" width="14" height="14" fill="#26a69a" stroke="#9598a1" stroke-width="2"/>
<rect x="81" y="1128" width="2" height="106" fill="#ef4744"/>
<rect x="74" y="1146" width="16" height="60" fill="#ef5350"/>
<rect x="101" y="1181" width="2" height="19" fill="#139e8e"/><rect x="101" y="1206" width="2" height="36" fill="#139e8e"/>
<rect x="95" y="1201" width="14" height="4" fill="#26a69a" stroke="#9598a1" stroke-width="2"/>
<rect x="121" y="1197" width="2" height="30" fill="#ef4744"/>
<rect x="114" y="1199" width="16" height="25" fill="#ef5350"/>
<rect x="141" y="1221" width="2" height="50" fill="#ef4744"/>
<rect x="134" y="1223" width="16" height="30" fill="#ef5350"/>
<rect x="161" y="1194" width="2" height="21" fill="#139e8e"/><rect x="161" y="1252" width="2" height="8" fill="#139e8e"/>
<rect x="155" y="1216" width="14" height="35" fill="#26a69a" stroke="#9598a1" stroke-width="2"/>
<rect x="181" y="1182" width="2" height="6" fill="#139e8e"/><rect x="181" y="1214" width="2" height="16" fill="#139e8e"/>
<rect x="175" y="1189" width="14" height="24" fill="#26a69a" stroke="#9598a1" stroke-width="2"/>
<rect x="201" y="1121" width="2" height="11" fill="#139e8e"/><rect x="201" y="1188" width="2" height="5" fill="#139e8e"/>
<rect x="195" y="1133" width="14" height="54" fill="#26a69a" stroke="#9598a1" stroke-width="2"/>
<rect x="221" y="1125" width="2" height="73" fill="#ef4744"/>
<rect x="214" y="1132" width="16" height="14" fill="#ef5350"/>
<rect x="241" y="1103" width="2" height="113" fill="#ef4744"/>
<rect x="234" y="1146" width="16" height="36" fill="#ef5350"/>
<rect x="261" y="1140" width="2" height="58" fill="#139e8e"/>
<rect x="254" y="1178" width="16" height="3" fill="#9598a1"/>
<rect x="281" y="1172" width="2" height="50" fill="#ef4744"/>
<rect x="274" y="1178" width="16" height="7" fill="#ef5350"/>
<rect x="301" y="1174" width="2" height="40" fill="#ef4744"/>
<rect x="294" y="1184" width="16" height="19" fill="#ef5350"/>
<rect x="321" y="840" width="2" height="119" fill="#139e8e"/><rect x="321" y="1202" width="2" height="6" fill="#139e8e"/>
<rect x="315" y="960" width="14" height="241" fill="#26a69a" stroke="#9598a1" stroke-width="2"/>
<rect x="341" y="889" width="2" height="95" fill="#ef4744"/>
<rect x="334" y="959" width="16" height="7" fill="#ef5350"/>
<rect x="361" y="962" width="2" height="50" fill="#ef4744"/>
<rect x="354" y="965" width="16" height="25" fill="#ef5350"/>
<rect x="381" y="978" width="2" height="86" fill="#ef4744"/>
<rect x="374" y="989" width="16" height="64" fill="#ef5350"/>
<rect x="401" y="1018" width="2" height="58" fill="#139e8e"/>
<rect x="394" y="1050" width="16" height="2" fill="#9598a1"/>
<rect x="421" y="1042" width="2" height="213" fill="#ef4744"/>
<rect x="414" y="1051" width="16" height="79" fill="#ef5350"/>
<rect x="441" y="1128" width="2" height="36" fill="#ef4744"/>
<rect x="434" y="1129" width="16" height="16" fill="#ef5350"/>
<rect x="460" y="1118" width="2" height="64" fill="#ef4744"/>
<rect x="453" y="1144" width="16" height="20" fill="#ef5350"/>
<rect x="480" y="1154" width="2" height="23" fill="#ef4744"/>
<rect x="473" y="1163" width="16" height="9" fill="#ef5350"/>
<rect x="500" y="1159" width="2" height="53" fill="#ef4744"/>
<rect x="493" y="1171" width="16" height="5" fill="#ef5350"/>
<rect x="520" y="1142" width="2" height="23" fill="#139e8e"/><rect x="520" y="1175" width="2" height="6" fill="#139e8e"/>
<rect x="514" y="1166" width="14" height="8" fill="#26a69a" stroke="#9598a1" stroke-width="2"/>
<rect x="540" y="1119" width="2" height="24" fill="#139e8e"/><rect x="540" y="1165" width="2" height="12" fill="#139e8e"/>
<rect x="534" y="1144" width="14" height="20" fill="#26a69a" stroke="#9598a1" stroke-width="2"/>
<rect x="560" y="1120" width="2" height="42" fill="#ef4744"/>
<rect x="553" y="1143" width="16" height="8" fill="#ef5350"/>
<rect x="580" y="1147" width="2" height="50" fill="#ef4744"/>
<rect x="573" y="1150" width="16" height="32" fill="#ef5350"/>
<rect x="600" y="1135" width="2" height="10" fill="#139e8e"/><rect x="600" y="1181" width="2" height="11" fill="#139e8e"/>
<rect x="594" y="1146" width="14" height="34" fill="#26a69a" stroke="#9598a1" stroke-width="2"/>
<rect x="620" y="1085" width="2" height="27" fill="#139e8e"/><rect x="620" y="1145" width="2" height="2" fill="#139e8e"/>
<rect x="614" y="1113" width="14" height="31" fill="#26a69a" stroke="#9598a1" stroke-width="2"/>
<rect x="640" y="1021" width="2" height="2" fill="#139e8e"/><rect x="640" y="1112" width="2" height="7" fill="#139e8e"/>
<rect x="634" y="1024" width="14" height="87" fill="#26a69a" stroke="#9598a1" stroke-width="2"/>
<rect x="660" y="969" width="2" height="78" fill="#139e8e"/>
<rect x="653" y="1021" width="16" height="2" fill="#9598a1"/>
<rect x="680" y="957" width="2" height="128" fill="#ef4744"/>
<rect x="673" y="1022" width="16" height="30" fill="#ef5350"/>
<rect x="700" y="1041" width="2" height="56" fill="#ef4744"/>
<rect x="693" y="1051" width="16" height="9" fill="#ef5350"/>
<rect x="720" y="1044" width="2" height="9" fill="#139e8e"/><rect x="720" y="1060" width="2" height="18" fill="#139e8e"/>
<rect x="714" y="1054" width="14" height="5" fill="#26a69a" stroke="#9598a1" stroke-width="2"/>
<rect x="740" y="993" width="2" height="29" fill="#139e8e"/><rect x="740" y="1054" width="2" height="35" fill="#139e8e"/>
<rect x="734" y="1023" width="14" height="30" fill="#26a69a" stroke="#9598a1" stroke-width="2"/>
<rect x="760" y="1021" width="2" height="58" fill="#ef4744"/>
<rect x="753" y="1022" width="16" height="43" fill="#ef5350"/>
<rect x="780" y="1046" width="2" height="46" fill="#139e8e"/>
<rect x="773" y="1061" width="16" height="2" fill="#9598a1"/>
<rect x="800" y="1024" width="2" height="49" fill="#139e8e"/>
<rect x="793" y="1059" width="16" height="3" fill="#9598a1"/>
<rect x="820" y="1039" width="2" height="129" fill="#ef4744"/>
<rect x="813" y="1060" width="16" height="58" fill="#ef5350"/>
<rect x="840" y="1052" width="2" height="42" fill="#139e8e"/><rect x="840" y="1117" width="2" height="7" fill="#139e8e"/>
<rect x="834" y="1095" width="14" height="21" fill="#26a69a" stroke="#9598a1" stroke-width="2"/>
<rect x="860" y="1082" width="2" height="64" fill="#ef4744"/>
<rect x="853" y="1094" width="16" height="28" fill="#ef5350"/>
<rect x="880" y="1118" width="2" height="54" fill="#ef4744"/>
<rect x="873" y="1121" width="16" height="23" fill="#ef5350"/>
<rect x="900" y="1128" width="2" height="55" fill="#ef4744"/>
<rect x="893" y="1143" width="16" height="22" fill="#ef5350"/>
<rect x="920" y="1131" width="2" height="10" fill="#139e8e"/><rect x="920" y="1164" width="2" height="6" fill="#139e8e"/>
<rect x="914" y="1142" width="14" height="21" fill="#26a69a" stroke="#9598a1" stroke-width="2"/>
<rect x="940" y="1091" width="2" height="21" fill="#139e8e"/><rect x="940" y="1141" width="2" height="12" fill="#139e8e"/>
<rect x="934" y="1113" width="14" height="27" fill="#26a69a" stroke="#9598a1" stroke-width="2"/>
<rect x="960" y="1095" width="2" height="47" fill="#ef4744"/>
<rect x="953" y="1111" width="16" height="15" fill="#ef5350"/>
<rect x="980" y="1031" width="2" height="20" fill="#139e8e"/><rect x="980" y="1125" width="2" height="13" fill="#139e8e"/>
<rect x="974" y="1052" width="14" height="72" fill="#26a69a" stroke="#9598a1" stroke-width="2"/>
<rect x="1000" y="1017" width="2" height="112" fill="#ef4744"/>
<rect x="993" y="1050" width="16" height="17" fill="#ef5350"/>
<rect x="1020" y="961" width="2" height="95" fill="#139e8e"/><rect x="1020" y="1067" width="2" height="21" fill="#139e8e"/>
<rect x="1014" y="1057" width="14" height="9" fill="#26a69a" stroke="#9598a1" stroke-width="2"/>
<rect x="1040" y="1016" width="2" height="30" fill="#139e8e"/><rect x="1040" y="1056" width="2" height="45" fill="#139e8e"/>
<rect x="1034" y="1047" width="14" height="8" fill="#26a69a" stroke="#9598a1" stroke-width="2"/>
<rect x="1060" y="1021" width="2" height="49" fill="#ef4744"/>
<rect x="1053" y="1045" width="16" height="4" fill="#ef5350"/>
<rect x="1080" y="1044" width="2" height="63" fill="#ef4744"/>
<rect x="1073" y="1048" width="16" height="31" fill="#ef5350"/>
<rect x="1100" y="1037" width="2" height="223" fill="#ef4744"/>
<rect x="1093" y="1078" width="16" height="87" fill="#ef5350"/>
<rect x="1120" y="1131" width="2" height="13" fill="#139e8e"/><rect x="1120" y="1164" width="2" height="40" fill="#139e8e"/>
<rect x="1114" y="1145" width="14" height="18" fill="#26a69a" stroke="#9598a1" stroke-width="2"/>
<rect x="1140" y="1098" width="2" height="61" fill="#ef4744"/>
<rect x="1133" y="1143" width="16" height="15" fill="#ef5350"/>
<rect x="1160" y="1127" width="2" height="12" fill="#139e8e"/><rect x="1160" y="1157" width="2" height="34" fill="#139e8e"/>
<rect x="1154" y="1140" width="14" height="16" fill="#26a69a" stroke="#9598a1" stroke-width="2"/>
<rect x="1180" y="1099" width="2" height="73" fill="#ef4744"/>
<rect x="1173" y="1138" width="16" height="31" fill="#ef5350"/>
<rect x="1200" y="1138" width="2" height="21" fill="#139e8e"/><rect x="1200" y="1168" width="2" height="14" fill="#139e8e"/>
<rect x="1194" y="1160" width="14" height="7" fill="#26a69a" stroke="#9598a1" stroke-width="2"/>
<rect x="1220" y="1111" width="2" height="29" fill="#139e8e"/><rect x="1220" y="1158" width="2" height="7" fill="#139e8e"/>
<rect x="1214" y="1141" width="14" height="16" fill="#26a69a" stroke="#9598a1" stroke-width="2"/>
<rect x="1240" y="1127" width="2" height="32" fill="#ef4744"/>
<rect x="1233" y="1139" width="16" height="16" fill="#ef5350"/>
<rect x="1260" y="1135" width="2" height="86" fill="#ef4744"/>
<rect x="1253" y="1154" width="16" height="16" fill="#ef5350"/>
<rect x="1280" y="1161" width="2" height="50" fill="#ef4744"/>
<rect x="1273" y="1169" width="16" height="11" fill="#ef5350"/>
<rect x="1300" y="1146" width="2" height="55" fill="#ef4744"/>
<rect x="1293" y="1179" width="16" height="11" fill="#ef5350"/>
<rect x="1320" y="1186" width="2" height="23" fill="#ef4744"/>
<rect x="1313" y="1189" width="16" height="5" fill="#ef5350"/>
<rect x="1340" y="1179" width="2" height="128" fill="#ef4744"/>
<rect x="1333" y="1193" width="16" height="67" fill="#ef5350"/>
<rect x="1360" y="1103" width="2" height="45" fill="#139e8e"/><rect x="1360" y="1259" width="2" height="20" fill="#139e8e"/>
<rect x="1354" y="1149" width="14" height="109" fill="#26a69a" stroke="#9598a1" stroke-width="2"/>
<rect x="1380" y="1041" width="2" height="33" fill="#139e8e"/><rect x="1380" y="1147" width="2" height="1" fill="#139e8e"/>
<rect x="1374" y="1075" width="14" height="71" fill="#26a69a" stroke="#9598a1" stroke-width="2"/>
<rect x="1400" y="1045" width="2" height="46" fill="#139e8e"/>
<rect x="1393" y="1072" width="16" height="2" fill="#9598a1"/>
<rect x="1420" y="1025" width="2" height="129" fill="#ef4744"/>
<rect x="1413" y="1072" width="16" height="73" fill="#ef5350"/>
<rect x="1440" y="1036" width="2" height="80" fill="#139e8e"/><rect x="1440" y="1144" width="2" height="100" fill="#139e8e"/>
<rect x="1434" y="1117" width="14" height="26" fill="#26a69a" stroke="#9598a1" stroke-width="2"/>
<rect x="1459" y="1086" width="2" height="20" fill="#139e8e"/><rect x="1459" y="1116" width="2" height="2" fill="#139e8e"/>
<rect x="1453" y="1107" width="14" height="8" fill="#26a69a" stroke="#9598a1" stroke-width="2"/>
<rect x="1479" y="1047" width="2" height="27" fill="#139e8e"/><rect x="1479" y="1106" width="2" height="2" fill="#139e8e"/>
<rect x="1473" y="1075" width="14" height="30" fill="#26a69a" stroke="#9598a1" stroke-width="2"/>
<rect x="1499" y="1071" width="2" height="53" fill="#ef4744"/>
<rect x="1492" y="1073" width="16" height="49" fill="#ef5350"/>
<rect x="1519" y="1097" width="2" height="68" fill="#ef4744"/>
<rect x="1512" y="1121" width="16" height="18" fill="#ef5350"/>
<rect x="1539" y="1073" width="2" height="27" fill="#139e8e"/><rect x="1539" y="1138" width="2" height="6" fill="#139e8e"/>
<rect x="1533" y="1101" width="14" height="36" fill="#26a69a" stroke="#9598a1" stroke-width="2"/>
<rect x="1559" y="1062" width="2" height="23" fill="#139e8e"/><rect x="1559" y="1099" width="2" height="10" fill="#139e8e"/>
<rect x="1553" y="1086" width="14" height="12" fill="#26a69a" stroke="#9598a1" stroke-width="2"/>
<rect x="1579" y="1019" width="2" height="20" fill="#139e8e"/><rect x="1579" y="1084" width="2" height="12" fill="#139e8e"/>
<rect x="1573" y="1040" width="14" height="43" fill="#26a69a" stroke="#9598a1" stroke-width="2"/>
<rect x="1599" y="1027" width="2" height="134" fill="#ef4744"/>
<rect x="1592" y="1038" width="16" height="97" fill="#ef5350"/>
<rect x="1619" y="1122" width="2" height="24" fill="#ef4744"/>
<rect x="1612" y="1133" width="16" height="2" fill="#ef5350"/>
<rect x="1639" y="1103" width="2" height="18" fill="#139e8e"/><rect x="1639" y="1135" width="2" height="4" fill="#139e8e"/>
<rect x="1633" y="1122" width="14" height="12" fill="#26a69a" stroke="#9598a1" stroke-width="2"/>
<rect x="1659" y="1108" width="2" height="74" fill="#ef4744"/>
<rect x="1652" y="1120" width="16" height="31" fill="#ef5350"/>
<rect x="1679" y="1137" width="2" height="39" fill="#ef4744"/>
<rect x="1672" y="1150" width="16" height="15" fill="#ef5350"/>
<rect x="1699" y="1057" width="2" height="27" fill="#139e8e"/><rect x="1699" y="1164" width="2" height="8" fill="#139e8e"/>
<rect x="1693" y="1085" width="14" height="78" fill="#26a69a" stroke="#9598a1" stroke-width="2"/>
<rect x="1719" y="683" width="2" height="98" fill="#139e8e"/><rect x="1719" y="1083" width="2" height="16" fill="#139e8e"/>
<rect x="1713" y="782" width="14" height="300" fill="#26a69a" stroke="#9598a1" stroke-width="2"/>
<rect x="1739" y="553" width="2" height="67" fill="#139e8e"/><rect x="1739" y="781" width="2" height="0" fill="#139e8e"/>
<rect x="1733" y="621" width="14" height="159" fill="#26a69a" stroke="#9598a1" stroke-width="2"/>
<rect x="1759" y="363" width="2" height="13" fill="#139e8e"/><rect x="1759" y="620" width="2" height="57" fill="#139e8e"/>
<rect x="1753" y="377" width="14" height="242" fill="#26a69a" stroke="#9598a1" stroke-width="2"/>
<rect x="1779" y="252" width="2" height="59" fill="#139e8e"/><rect x="1779" y="375" width="2" height="28" fill="#139e8e"/>
<rect x="1773" y="312" width="14" height="62" fill="#26a69a" stroke="#9598a1" stroke-width="2"/>
<rect x="1799" y="309" width="2" height="164" fill="#ef4744"/>
<rect x="1792" y="310" width="16" height="32" fill="#ef5350"/>
<rect x="1819" y="285" width="2" height="171" fill="#ef4744"/>
<rect x="1812" y="342" width="16" height="54" fill="#ef5350"/>
<rect x="1839" y="363" width="2" height="66" fill="#ef4744"/>
<rect x="1832" y="396" width="16" height="28" fill="#ef5350"/>
<rect x="1859" y="329" width="2" height="24" fill="#139e8e"/><rect x="1859" y="423" width="2" height="25" fill="#139e8e"/>
<rect x="1853" y="354" width="14" height="68" fill="#26a69a" stroke="#9598a1" stroke-width="2"/>
<rect x="1879" y="310" width="2" height="21" fill="#139e8e"/><rect x="1879" y="352" width="2" height="45" fill="#139e8e"/>
<rect x="1873" y="332" width="14" height="19" fill="#26a69a" stroke="#9598a1" stroke-width="2"/>
<rect x="1899" y="171" width="2" height="73" fill="#139e8e"/><rect x="1899" y="330" width="2" height="36" fill="#139e8e"/>
<rect x="1893" y="245" width="14" height="84" fill="#26a69a" stroke="#9598a1" stroke-width="2"/>
<rect x="1919" y="176" width="2" height="56" fill="#139e8e"/><rect x="1919" y="243" width="2" height="9" fill="#139e8e"/>
<rect x="1913" y="233" width="14" height="9" fill="#26a69a" stroke="#9598a1" stroke-width="2"/>
<rect x="1939" y="200" width="2" height="139" fill="#ef4744"/>
<rect x="1932" y="232" width="16" height="83" fill="#ef5350"/>
<rect x="1959" y="274" width="2" height="236" fill="#ef4744"/>
<rect x="1952" y="314" width="16" height="39" fill="#ef5350"/>
<rect x="1979" y="265" width="2" height="21" fill="#139e8e"/><rect x="1979" y="353" width="2" height="16" fill="#139e8e"/>
<rect x="1973" y="287" width="14" height="65" fill="#26a69a" stroke="#9598a1" stroke-width="2"/>
<rect x="1999" y="278" width="2" height="59" fill="#ef4744"/>
<rect x="1992" y="285" width="16" height="31" fill="#ef5350"/>
<rect x="2019" y="236" width="2" height="10" fill="#139e8e"/><rect x="2019" y="315" width="2" height="145" fill="#139e8e"/>
<rect x="2013" y="247" width="14" height="67" fill="#26a69a" stroke="#9598a1" stroke-width="2"/>
<rect x="2039" y="242" width="2" height="184" fill="#ef4744"/>
<rect x="2032" y="246" width="16" height="166" fill="#ef5350"/>
<rect x="2059" y="336" width="2" height="40" fill="#139e8e"/><rect x="2059" y="412" width="2" height="61" fill="#139e8e"/>
<rect x="2053" y="377" width="14" height="34" fill="#26a69a" stroke="#9598a1" stroke-width="2"/>
<rect x="2079" y="312" width="2" height="32" fill="#139e8e"/><rect x="2079" y="375" width="2" height="17" fill="#139e8e"/>
<rect x="2073" y="345" width="14" height="29" fill="#26a69a" stroke="#9598a1" stroke-width="2"/>
<rect x="2099" y="330" width="2" height="101" fill="#ef4744"/>
<rect x="2092" y="344" width="16" height="68" fill="#ef5350"/>
<rect x="2119" y="389" width="2" height="95" fill="#ef4744"/>
<rect x="2112" y="412" width="16" height="56" fill="#ef5350"/>
<rect x="2139" y="386" width="2" height="32" fill="#139e8e"/><rect x="2139" y="467" width="2" height="91" fill="#139e8e"/>
<rect x="2133" y="419" width="14" height="47" fill="#26a69a" stroke="#9598a1" stroke-width="2"/>
<rect x="2159" y="401" width="2" height="37" fill="#ef4744"/>
<rect x="2152" y="417" width="16" height="10" fill="#ef5350"/>
<rect x="2179" y="374" width="2" height="12" fill="#139e8e"/><rect x="2179" y="427" width="2" height="5" fill="#139e8e"/>
<rect x="2173" y="387" width="14" height="39" fill="#26a69a" stroke="#9598a1" stroke-width="2"/>
<rect x="2199" y="360" width="2" height="56" fill="#ef4744"/>
<rect x="2192" y="385" width="16" height="23" fill="#ef5350"/>
<rect x="2219" y="334" width="2" height="26" fill="#139e8e"/><rect x="2219" y="408" width="2" height="19" fill="#139e8e"/>
<rect x="2213" y="361" width="14" height="46" fill="#26a69a" stroke="#9598a1" stroke-width="2"/>
<rect x="2239" y="299" width="2" height="47" fill="#139e8e"/><rect x="2239" y="359" width="2" height="15" fill="#139e8e"/>
<rect x="2233" y="347" width="14" height="11" fill="#26a69a" stroke="#9598a1" stroke-width="2"/>
<rect x="2259" y="335" width="2" height="47" fill="#ef4744"/>
<rect x="2252" y="346" width="16" height="20" fill="#ef5350"/>
<rect x="2279" y="361" width="2" height="65" fill="#ef4744"/>
<rect x="2272" y="365" width="16" height="37" fill="#ef5350"/>
<rect x="2299" y="374" width="2" height="9" fill="#139e8e"/><rect x="2299" y="402" width="2" height="30" fill="#139e8e"/>
<rect x="2293" y="384" width="14" height="17" fill="#26a69a" stroke="#9598a1" stroke-width="2"/>
<rect x="2319" y="366" width="2" height="60" fill="#ef4744"/>
<rect x="2312" y="382" width="16" height="23" fill="#ef5350"/>
<rect x="2339" y="366" width="2" height="105" fill="#ef4744"/>
<rect x="2332" y="405" width="16" height="38" fill="#ef5350"/>
<rect x="2359" y="390" width="2" height="7" fill="#139e8e"/><rect x="2359" y="442" width="2" height="15" fill="#139e8e"/>
<rect x="2353" y="398" width="14" height="43" fill="#26a69a" stroke="#9598a1" stroke-width="2"/>
<rect x="2379" y="368" width="2" height="14" fill="#139e8e"/><rect x="2379" y="396" width="2" height="14" fill="#139e8e"/>
<rect x="2373" y="383" width="14" height="12" fill="#26a69a" stroke="#9598a1" stroke-width="2"/>
<rect x="2399" y="240" width="2" height="26" fill="#139e8e"/><rect x="2399" y="381" width="2" height="5" fill="#139e8e"/>
<rect x="2393" y="267" width="14" height="113" fill="#26a69a" stroke="#9598a1" stroke-width="2"/>
<rect x="2419" y="132" width="2" height="32" fill="#139e8e"/><rect x="2419" y="265" width="2" height="6" fill="#139e8e"/>
<rect x="2413" y="165" width="14" height="99" fill="#26a69a" stroke="#9598a1" stroke-width="2"/>
<rect x="2439" y="134" width="2" height="110" fill="#ef4744"/>
<rect x="2432" y="163" width="16" height="33" fill="#ef5350"/>
<rect x="2458" y="182" width="2" height="103" fill="#ef4744"/>
<rect x="2451" y="196" width="16" height="50" fill="#ef5350"/>
<rect x="2478" y="174" width="2" height="31" fill="#139e8e"/><rect x="2478" y="245" width="2" height="8" fill="#139e8e"/>
<rect x="2472" y="206" width="14" height="38" fill="#26a69a" stroke="#9598a1" stroke-width="2"/>
<rect x="2498" y="178" width="2" height="59" fill="#ef4744"/>
<rect x="2491" y="204" width="16" height="18" fill="#ef5350"/>
<rect x="2518" y="214" width="2" height="61" fill="#ef4744"/>
<rect x="2511" y="221" width="16" height="11" fill="#ef5350"/>
<rect x="2538" y="222" width="2" height="57" fill="#ef4744"/>
<rect x="2531" y="231" width="16" height="46" fill="#ef5350"/>
<rect x="2558" y="248" width="2" height="11" fill="#139e8e"/><rect x="2558" y="276" width="2" height="15" fill="#139e8e"/>
<rect x="2552" y="260" width="14" height="15" fill="#26a69a" stroke="#9598a1" stroke-width="2"/>
<rect x="2578" y="205" width="2" height="27" fill="#139e8e"/><rect x="2578" y="258" width="2" height="2" fill="#139e8e"/>
<rect x="2572" y="233" width="14" height="24" fill="#26a69a" stroke="#9598a1" stroke-width="2"/>
<rect x="2598" y="212" width="2" height="32" fill="#ef4744"/>
<rect x="2591" y="231" width="16" height="11" fill="#ef5350"/>
<rect x="2618" y="237" width="2" height="54" fill="#ef4744"/>
<rect x="2611" y="241" width="16" height="18" fill="#ef5350"/>
<rect x="2638" y="219" width="2" height="23" fill="#139e8e"/><rect x="2638" y="259" width="2" height="10" fill="#139e8e"/>
<rect x="2632" y="243" width="14" height="15" fill="#26a69a" stroke="#9598a1" stroke-width="2"/>
<rect x="2658" y="227" width="2" height="462" fill="#ef4744"/>
<rect x="2651" y="241" width="16" height="85" fill="#ef5350"/>
<rect x="2678" y="301" width="2" height="99" fill="#ef4744"/>
<rect x="2671" y="325" width="16" height="29" fill="#ef5350"/>
<rect x="2698" y="298" width="2" height="4" fill="#139e8e"/><rect x="2698" y="354" width="2" height="14" fill="#139e8e"/>
<rect x="2692" y="303" width="14" height="50" fill="#26a69a" stroke="#9598a1" stroke-width="2"/>
<rect x="2718" y="292" width="2" height="65" fill="#ef4744"/>
<rect x="2711" y="301" width="16" height="25" fill="#ef5350"/>
<rect x="2738" y="324" width="2" height="106" fill="#ef4744"/>
<rect x="2731" y="325" width="16" height="34" fill="#ef5350"/>
<rect x="2758" y="314" width="2" height="94" fill="#ef4744"/>
<rect x="2751" y="359" width="16" height="36" fill="#ef5350"/>
<rect x="2778" y="372" width="2" height="124" fill="#ef4744"/>
<rect x="2771" y="394" width="16" height="41" fill="#ef5350"/>
<rect x="2798" y="377" width="2" height="32" fill="#139e8e"/><rect x="2798" y="434" width="2" height="7" fill="#139e8e"/>
<rect x="2792" y="410" width="14" height="23" fill="#26a69a" stroke="#9598a1" stroke-width="2"/>
<rect x="2818" y="393" width="2" height="58" fill="#ef4744"/>
<rect x="2811" y="408" width="16" height="27" fill="#ef5350"/>
<rect x="2838" y="402" width="2" height="57" fill="#ef4744"/>
<rect x="2831" y="435" width="16" height="18" fill="#ef5350"/>
<rect x="2858" y="443" width="2" height="67" fill="#ef4744"/>
<rect x="2851" y="452" width="16" height="16" fill="#ef5350"/>
<rect x="2878" y="460" width="2" height="34" fill="#ef4744"/>
<rect x="2871" y="467" width="16" height="16" fill="#ef5350"/>
<rect x="2898" y="416" width="2" height="9" fill="#139e8e"/><rect x="2898" y="483" width="2" height="15" fill="#139e8e"/>
<rect x="2892" y="426" width="14" height="56" fill="#26a69a" stroke="#9598a1" stroke-width="2"/>
<rect x="2918" y="348" width="2" height="87" fill="#ef4744"/>
<rect x="2911" y="424" width="16" height="5" fill="#ef5350"/>
<rect x="2938" y="399" width="2" height="51" fill="#ef4744"/>
<rect x="2931" y="428" width="16" height="22" fill="#ef5350"/>
<rect x="2958" y="439" width="2" height="59" fill="#ef4744"/>
<rect x="2951" y="449" width="16" height="43" fill="#ef5350"/>
<rect x="2978" y="461" width="2" height="134" fill="#ef4744"/>
<rect x="2971" y="491" width="16" height="76" fill="#ef5350"/>
<rect x="2998" y="545" width="2" height="205" fill="#ef4744"/>
<rect x="2991" y="566" width="16" height="56" fill="#ef5350"/>
<rect x="3018" y="540" width="2" height="66" fill="#139e8e"/><rect x="3018" y="621" width="2" height="33" fill="#139e8e"/>
<rect x="3012" y="607" width="14" height="13" fill="#26a69a" stroke="#9598a1" stroke-width="2"/>
<rect x="3038" y="590" width="2" height="51" fill="#ef4744"/>
<rect x="3031" y="605" width="16" height="31" fill="#ef5350"/>
<rect x="3058" y="599" width="2" height="84" fill="#ef4744"/>
<rect x="3051" y="635" width="16" height="15" fill="#ef5350"/>
<rect x="3078" y="606" width="2" height="56" fill="#ef4744"/>
<rect x="3071" y="650" width="16" height="6" fill="#ef5350"/>
<rect x="3098" y="609" width="2" height="5" fill="#139e8e"/><rect x="3098" y="656" width="2" height="2" fill="#139e8e"/>
<rect x="3092" y="615" width="14" height="40" fill="#26a69a" stroke="#9598a1" stroke-width="2"/>
<rect x="3118" y="561" width="2" height="82" fill="#ef4744"/>
<rect x="3111" y="614" width="16" height="25" fill="#ef5350"/>
<rect x="3138" y="608" width="2" height="65" fill="#ef4744"/>
<rect x="3131" y="638" width="16" height="23" fill="#ef5350"/>
<rect x="3158" y="645" width="2" height="20" fill="#ef4744"/>
<rect x="3151" y="660" width="16" height="4" fill="#ef5350"/>
</g>
<line x1="25" y1="662.6" x2="3469" y2="662.6" stroke="#ef5350" stroke-width="2" stroke-dasharray="2 4.1"/>
</g>
<text x="3179.5" y="142.3" font-size="28" fill="#787b86" stroke="#787b86" stroke-width="0.45" textLength="134.7" lengthAdjust="spacingAndGlyphs">0 (3.6645)</text>
<text x="3179.5" y="269.9" font-size="28" fill="#f23645" stroke="#f23645" stroke-width="0.45" textLength="193.8" lengthAdjust="spacingAndGlyphs">0.236 (2.8672)</text>
<text x="3179.5" y="368.3" font-size="28" fill="#ff9800" stroke="#ff9800" stroke-width="0.45" textLength="193.8" lengthAdjust="spacingAndGlyphs">0.382 (2.3739)</text>
<text x="3179.5" y="463.6" font-size="28" fill="#4caf50" stroke="#4caf50" stroke-width="0.45" textLength="161.6" lengthAdjust="spacingAndGlyphs">0.5 (1.9752)</text>
<text x="3179.5" y="580.3" font-size="28" fill="#089981" stroke="#089981" stroke-width="0.45" textLength="193.8" lengthAdjust="spacingAndGlyphs">0.618 (1.5765)</text>
<text x="3179.5" y="813.3" font-size="28" fill="#00bcd4" stroke="#00bcd4" stroke-width="0.45" textLength="193.8" lengthAdjust="spacingAndGlyphs">0.786 (1.0089)</text>
<g clip-path="url(#cr)">
<rect x="25" y="1442.7" width="3444" height="94.3" fill="#7e57c2" fill-opacity="0.1"/>
<line x1="25" y1="1442.7" x2="3469" y2="1442.7" stroke="#787b86" stroke-width="2" stroke-dasharray="12 10"/>
<line x1="25" y1="1489.9" x2="3469" y2="1489.9" stroke="#b2b5be" stroke-width="2" stroke-dasharray="12 10"/>
<line x1="25" y1="1537.1" x2="3469" y2="1537.1" stroke="#787b86" stroke-width="2" stroke-dasharray="12 10"/>
<clipPath id="c70"><rect x="25" y="1375.5" width="3444" height="67.2"/></clipPath>
<polygon points="21.9,1442.7 21.9,1454.5 41.9,1459.8 61.9,1456.0 81.9,1477.7 101.8,1476.0 121.8,1483.6 141.8,1491.8 161.8,1481.5 181.8,1474.2 201.7,1460.4 221.7,1465.8 241.7,1478.3 261.7,1477.8 281.7,1479.5 301.6,1485.8 321.6,1432.0 341.6,1434.8 361.6,1445.3 381.6,1467.4 401.5,1467.0 421.5,1487.6 441.5,1490.9 461.5,1494.8 481.5,1496.5 501.4,1497.4 521.4,1494.7 541.4,1488.8 561.4,1490.9 581.4,1499.1 601.3,1488.7 621.3,1479.5 641.3,1457.3 661.3,1457.0 681.3,1468.8 701.2,1471.7 721.2,1469.8 741.2,1461.3 761.2,1478.0 781.2,1477.1 801.1,1476.8 821.1,1496.1 841.1,1488.7 861.1,1497.0 881.1,1503.0 901.0,1508.3 921.0,1500.5 941.0,1490.6 961.0,1495.2 981.0,1472.0 1000.9,1478.0 1020.9,1474.8 1040.9,1471.5 1060.9,1472.8 1080.9,1485.3 1100.8,1510.1 1120.8,1503.5 1140.8,1507.0 1160.8,1500.7 1180.8,1508.5 1200.7,1505.2 1220.7,1498.4 1240.7,1502.9 1260.7,1507.2 1280.7,1510.1 1300.6,1512.8 1320.6,1514.0 1340.6,1529.6 1360.6,1491.5 1380.6,1471.3 1400.5,1471.1 1420.5,1493.0 1440.5,1485.3 1460.5,1482.8 1480.5,1473.9 1500.4,1488.9 1520.4,1493.4 1540.4,1482.6 1560.4,1478.6 1580.4,1466.4 1600.3,1494.3 1620.3,1494.2 1640.3,1490.6 1660.3,1498.1 1680.3,1501.4 1700.2,1480.0 1720.2,1426.7 1740.2,1410.2 1760.2,1393.9 1780.2,1390.9 1800.1,1406.1 1820.1,1427.5 1840.1,1436.7 1860.1,1428.3 1880.1,1425.8 1900.0,1416.3 1920.0,1415.2 1940.0,1446.2 1960.0,1457.2 1980.0,1447.3 1999.9,1456.1 2019.9,1445.7 2039.9,1482.2 2059.9,1477.2 2079.9,1472.7 2099.8,1484.6 2119.8,1492.4 2139.8,1485.4 2159.8,1486.9 2179.8,1480.5 2199.7,1484.6 2219.7,1476.6 2239.7,1474.4 2259.7,1478.7 2279.7,1486.4 2299.6,1482.7 2319.6,1487.5 2339.6,1494.9 2359.6,1485.6 2379.6,1482.4 2399.5,1459.7 2419.5,1442.7 2439.5,1453.7 2459.5,1467.7 2479.5,1460.5 2499.4,1465.4 2519.4,1468.3 2539.4,1480.0 2559.4,1476.4 2579.4,1470.6 2599.3,1473.6 2619.3,1478.7 2639.3,1474.6 2659.3,1495.9 2679.3,1501.6 2699.2,1489.6 2719.2,1494.8 2739.2,1501.6 2759.2,1507.9 2779.2,1514.3 2799.1,1508.3 2819.1,1512.7 2839.1,1515.4 2859.1,1517.8 2879.1,1520.2 2899.0,1505.1 2919.0,1505.9 2939.0,1510.1 2959.0,1517.7 2979.0,1528.3 2998.9,1534.3 3018.9,1530.6 3038.9,1533.9 3058.9,1535.5 3078.9,1536.1 3098.8,1525.5 3118.8,1528.7 3138.8,1531.6 3158.8,1532.0 3158.8,1442.7" fill="url(#gg)" clip-path="url(#c70)"/>
<polyline points="21.9,1454.5 41.9,1459.8 61.9,1456.0 81.9,1477.7 101.8,1476.0 121.8,1483.6 141.8,1491.8 161.8,1481.5 181.8,1474.2 201.7,1460.4 221.7,1465.8 241.7,1478.3 261.7,1477.8 281.7,1479.5 301.6,1485.8 321.6,1432.0 341.6,1434.8 361.6,1445.3 381.6,1467.4 401.5,1467.0 421.5,1487.6 441.5,1490.9 461.5,1494.8 481.5,1496.5 501.4,1497.4 521.4,1494.7 541.4,1488.8 561.4,1490.9 581.4,1499.1 601.3,1488.7 621.3,1479.5 641.3,1457.3 661.3,1457.0 681.3,1468.8 701.2,1471.7 721.2,1469.8 741.2,1461.3 761.2,1478.0 781.2,1477.1 801.1,1476.8 821.1,1496.1 841.1,1488.7 861.1,1497.0 881.1,1503.0 901.0,1508.3 921.0,1500.5 941.0,1490.6 961.0,1495.2 981.0,1472.0 1000.9,1478.0 1020.9,1474.8 1040.9,1471.5 1060.9,1472.8 1080.9,1485.3 1100.8,1510.1 1120.8,1503.5 1140.8,1507.0 1160.8,1500.7 1180.8,1508.5 1200.7,1505.2 1220.7,1498.4 1240.7,1502.9 1260.7,1507.2 1280.7,1510.1 1300.6,1512.8 1320.6,1514.0 1340.6,1529.6 1360.6,1491.5 1380.6,1471.3 1400.5,1471.1 1420.5,1493.0 1440.5,1485.3 1460.5,1482.8 1480.5,1473.9 1500.4,1488.9 1520.4,1493.4 1540.4,1482.6 1560.4,1478.6 1580.4,1466.4 1600.3,1494.3 1620.3,1494.2 1640.3,1490.6 1660.3,1498.1 1680.3,1501.4 1700.2,1480.0 1720.2,1426.7 1740.2,1410.2 1760.2,1393.9 1780.2,1390.9 1800.1,1406.1 1820.1,1427.5 1840.1,1436.7 1860.1,1428.3 1880.1,1425.8 1900.0,1416.3 1920.0,1415.2 1940.0,1446.2 1960.0,1457.2 1980.0,1447.3 1999.9,1456.1 2019.9,1445.7 2039.9,1482.2 2059.9,1477.2 2079.9,1472.7 2099.8,1484.6 2119.8,1492.4 2139.8,1485.4 2159.8,1486.9 2179.8,1480.5 2199.7,1484.6 2219.7,1476.6 2239.7,1474.4 2259.7,1478.7 2279.7,1486.4 2299.6,1482.7 2319.6,1487.5 2339.6,1494.9 2359.6,1485.6 2379.6,1482.4 2399.5,1459.7 2419.5,1442.7 2439.5,1453.7 2459.5,1467.7 2479.5,1460.5 2499.4,1465.4 2519.4,1468.3 2539.4,1480.0 2559.4,1476.4 2579.4,1470.6 2599.3,1473.6 2619.3,1478.7 2639.3,1474.6 2659.3,1495.9 2679.3,1501.6 2699.2,1489.6 2719.2,1494.8 2739.2,1501.6 2759.2,1507.9 2779.2,1514.3 2799.1,1508.3 2819.1,1512.7 2839.1,1515.4 2859.1,1517.8 2879.1,1520.2 2899.0,1505.1 2919.0,1505.9 2939.0,1510.1 2959.0,1517.7 2979.0,1528.3 2998.9,1534.3 3018.9,1530.6 3038.9,1533.9 3058.9,1535.5 3078.9,1536.1 3098.8,1525.5 3118.8,1528.7 3138.8,1531.6 3158.8,1532.0" fill="none" stroke="#7e57c2" stroke-width="2.5" stroke-linejoin="round"/>
<polyline points="21.9,1494.0 41.9,1490.3 61.9,1486.6 81.9,1485.4 101.8,1484.1 121.8,1483.9 141.8,1483.8 161.8,1482.3 181.8,1480.9 201.7,1478.2 221.7,1475.5 241.7,1474.2 261.7,1472.9 281.7,1473.6 301.6,1474.9 321.6,1472.9 341.6,1471.4 361.6,1469.1 381.6,1468.4 401.5,1467.3 421.5,1467.0 441.5,1467.6 461.5,1469.1 481.5,1471.7 501.4,1473.9 521.4,1475.1 541.4,1475.9 561.4,1476.7 581.4,1477.7 601.3,1481.7 621.3,1484.9 641.3,1485.8 661.3,1485.0 681.3,1485.1 701.2,1484.0 721.2,1482.5 741.2,1480.1 761.2,1478.8 781.2,1477.3 801.1,1476.1 821.1,1476.6 841.1,1476.4 861.1,1476.3 881.1,1477.3 901.0,1479.4 921.0,1482.5 941.0,1484.9 961.0,1486.7 981.0,1486.8 1000.9,1487.3 1020.9,1488.3 1040.9,1487.8 1060.9,1487.5 1080.9,1488.1 1100.8,1489.1 1120.8,1490.2 1140.8,1490.9 1160.8,1490.7 1180.8,1490.8 1200.7,1491.1 1220.7,1491.6 1240.7,1492.2 1260.7,1494.7 1280.7,1497.0 1300.6,1499.7 1320.6,1502.7 1340.6,1506.8 1360.6,1507.2 1380.6,1504.5 1400.5,1502.2 1420.5,1501.2 1440.5,1500.1 1460.5,1498.2 1480.5,1496.0 1500.4,1495.3 1520.4,1494.6 1540.4,1492.9 1560.4,1490.6 1580.4,1487.3 1600.3,1485.9 1620.3,1483.4 1640.3,1483.3 1660.3,1485.2 1680.3,1487.4 1700.2,1486.5 1720.2,1482.3 1740.2,1477.1 1760.2,1471.4 1780.2,1464.4 1800.1,1458.1 1820.1,1454.2 1840.1,1451.2 1860.1,1448.5 1880.1,1443.6 1900.0,1438.0 1920.0,1432.6 1940.0,1428.9 1960.0,1425.8 1980.0,1423.5 1999.9,1425.6 2019.9,1428.1 2039.9,1434.4 2059.9,1440.6 2079.9,1445.3 2099.8,1449.4 2119.8,1453.4 2139.8,1457.5 2159.8,1461.8 2179.8,1466.4 2199.7,1471.4 2219.7,1473.5 2239.7,1474.8 2259.7,1477.0 2279.7,1479.2 2299.6,1481.8 2319.6,1482.2 2339.6,1483.4 2359.6,1484.4 2379.6,1484.2 2399.5,1481.9 2419.5,1478.8 2439.5,1476.5 2459.5,1475.5 2479.5,1473.8 2499.4,1473.0 2519.4,1472.6 2539.4,1472.7 2559.4,1472.0 2579.4,1471.1 2599.3,1470.1 2619.3,1468.9 2639.3,1468.2 2659.3,1469.1 2679.3,1472.1 2699.2,1475.5 2719.2,1478.4 2739.2,1480.8 2759.2,1484.2 2779.2,1487.7 2799.1,1490.5 2819.1,1492.9 2839.1,1495.7 2859.1,1499.0 2879.1,1502.4 2899.0,1504.3 2919.0,1506.5 2939.0,1507.5 2959.0,1508.7 2979.0,1511.4 2998.9,1514.3 3018.9,1516.3 3038.9,1518.2 3058.9,1519.7 3078.9,1521.7 3098.8,1522.6 3118.8,1523.5 3138.8,1524.5 3158.8,1525.4" fill="none" stroke="#ffeb3b" stroke-width="2.5" stroke-linejoin="round"/>
</g>
<line x1="3469" y1="67" x2="3469" y2="1629" stroke="#4a4a4a" stroke-width="2"/>
<line x1="25" y1="1560.5" x2="3603" y2="1560.5" stroke="#4a4a4a" stroke-width="2"/>
<clipPath id="cp"><rect x="3470" y="67" width="134" height="1307.5"/></clipPath><g clip-path="url(#cp)">
<text x="3491.5" y="180.3" font-size="26" fill="#4a4a4a" stroke="#4a4a4a" stroke-width="0.45" textLength="79.5" lengthAdjust="spacingAndGlyphs">3.4000</text>
<text x="3491.5" y="281.3" font-size="26" fill="#4a4a4a" stroke="#4a4a4a" stroke-width="0.45" textLength="79.5" lengthAdjust="spacingAndGlyphs">2.8000</text>
<text x="3491.5" y="361.4" font-size="26" fill="#4a4a4a" stroke="#4a4a4a" stroke-width="0.45" textLength="79.5" lengthAdjust="spacingAndGlyphs">2.4000</text>
<text x="3491.5" y="456.2" font-size="26" fill="#4a4a4a" stroke="#4a4a4a" stroke-width="0.45" textLength="79.5" lengthAdjust="spacingAndGlyphs">2.0000</text>
<text x="3491.5" y="540.7" font-size="26" fill="#4a4a4a" stroke="#4a4a4a" stroke-width="0.45" textLength="79.5" lengthAdjust="spacingAndGlyphs">1.7000</text>
<text x="3491.5" y="641.6" font-size="26" fill="#4a4a4a" stroke="#4a4a4a" stroke-width="0.45" textLength="79.5" lengthAdjust="spacingAndGlyphs">1.4000</text>
<text x="3491.5" y="721.8" font-size="26" fill="#4a4a4a" stroke="#4a4a4a" stroke-width="0.45" textLength="79.5" lengthAdjust="spacingAndGlyphs">1.2000</text>
<text x="3491.5" y="816.6" font-size="26" fill="#4a4a4a" stroke="#4a4a4a" stroke-width="0.45" textLength="79.5" lengthAdjust="spacingAndGlyphs">1.0000</text>
<text x="3491.5" y="901.0" font-size="26" fill="#4a4a4a" stroke="#4a4a4a" stroke-width="0.45" textLength="79.5" lengthAdjust="spacingAndGlyphs">0.8500</text>
<text x="3491.5" y="1002.0" font-size="26" fill="#4a4a4a" stroke="#4a4a4a" stroke-width="0.45" textLength="79.5" lengthAdjust="spacingAndGlyphs">0.7000</text>
<text x="3491.5" y="1082.1" font-size="26" fill="#4a4a4a" stroke="#4a4a4a" stroke-width="0.45" textLength="79.5" lengthAdjust="spacingAndGlyphs">0.6000</text>
<text x="3491.5" y="1156.5" font-size="26" fill="#4a4a4a" stroke="#4a4a4a" stroke-width="0.45" textLength="79.5" lengthAdjust="spacingAndGlyphs">0.5200</text>
<text x="3491.5" y="1231.7" font-size="26" fill="#4a4a4a" stroke="#4a4a4a" stroke-width="0.45" textLength="79.5" lengthAdjust="spacingAndGlyphs">0.4500</text>
<text x="3491.5" y="1306.1" font-size="26" fill="#4a4a4a" stroke="#4a4a4a" stroke-width="0.45" textLength="79.5" lengthAdjust="spacingAndGlyphs">0.3900</text>
<text x="3491.5" y="1377.4" font-size="26" fill="#4a4a4a" stroke="#4a4a4a" stroke-width="0.45" textLength="79.5" lengthAdjust="spacingAndGlyphs">0.3400</text>
</g>
<text x="3490.5" y="1428.8" font-size="26" fill="#4a4a4a" stroke="#4a4a4a" stroke-width="0.45" textLength="65.8" lengthAdjust="spacingAndGlyphs">80.00</text>
<text x="3490.5" y="1523.1" font-size="26" fill="#4a4a4a" stroke="#4a4a4a" stroke-width="0.45" textLength="65.8" lengthAdjust="spacingAndGlyphs">40.00</text>
<rect x="3478.4" y="76.9" width="113" height="64" rx="9" fill="#fff" stroke="#ebedf1" stroke-width="1.6"/>
<text x="3502.5" y="117.6" font-size="28.6" fill="#0c0e15" stroke="#0c0e15" stroke-width="0.45" textLength="68.4" lengthAdjust="spacingAndGlyphs">USDT</text>
<path d="M3340.5,643 H3469 V683 H3340.5 a3.5,3.5 0 0 1 -3.5,-3.5 V646.5 a3.5,3.5 0 0 1 3.5,-3.5 z" fill="#ef5350"/>
<path d="M3469,643 H3579.5 a3.5,3.5 0 0 1 3.5,3.5 V711 a3.5,3.5 0 0 1 -3.5,3.5 H3469 z" fill="#ef5350"/>
<line x1="3469" y1="643" x2="3469" y2="683" stroke="#d84a47" stroke-width="1.5"/>
<text x="3348" y="672.3" font-size="26" fill="#fff" stroke="#fff" stroke-width="0.45" textLength="106" lengthAdjust="spacingAndGlyphs">XRPUSDT</text>
<text x="3492.5" y="672.3" font-size="26" fill="#fff" stroke="#fff" stroke-width="0.45" textLength="76" lengthAdjust="spacingAndGlyphs">1.3201</text>
<text x="3491" y="704.5" font-size="26" fill="#fbd5d4" stroke="#fbd5d4" stroke-width="0.45" textLength="79.5" lengthAdjust="spacingAndGlyphs">5d 17h</text>
<text x="98.2" y="1604" font-size="26" fill="#4a4a4a" stroke="#4a4a4a" stroke-width="0.45" textLength="47.5" lengthAdjust="spacingAndGlyphs">May</text>
<text x="284.9" y="1604" font-size="26" fill="#4a4a4a" stroke="#4a4a4a" stroke-width="0.45" textLength="34.3" lengthAdjust="spacingAndGlyphs">Jul</text>
<text x="460.1" y="1604" font-size="26" fill="#4a4a4a" stroke="#4a4a4a" stroke-width="0.45" textLength="41.7" lengthAdjust="spacingAndGlyphs">Sep</text>
<text x="639.0" y="1604" font-size="26" fill="#4a4a4a" stroke="#4a4a4a" stroke-width="0.45" textLength="44.1" lengthAdjust="spacingAndGlyphs">Nov</text>
<text x="790.4" y="1604" font-size="26" fill="#4a4a4a" font-weight="bold" textLength="61.2" lengthAdjust="spacingAndGlyphs">2024</text>
<text x="979.4" y="1604" font-size="26" fill="#4a4a4a" stroke="#4a4a4a" stroke-width="0.45" textLength="43.2" lengthAdjust="spacingAndGlyphs">Mar</text>
<text x="1157.2" y="1604" font-size="26" fill="#4a4a4a" stroke="#4a4a4a" stroke-width="0.45" textLength="47.5" lengthAdjust="spacingAndGlyphs">May</text>
<text x="1323.8" y="1604" font-size="26" fill="#4a4a4a" stroke="#4a4a4a" stroke-width="0.45" textLength="34.3" lengthAdjust="spacingAndGlyphs">Jul</text>
<text x="1499.2" y="1604" font-size="26" fill="#4a4a4a" stroke="#4a4a4a" stroke-width="0.45" textLength="41.7" lengthAdjust="spacingAndGlyphs">Sep</text>
<text x="1678.0" y="1604" font-size="26" fill="#4a4a4a" stroke="#4a4a4a" stroke-width="0.45" textLength="44.1" lengthAdjust="spacingAndGlyphs">Nov</text>
<text x="1849.4" y="1604" font-size="26" fill="#4a4a4a" font-weight="bold" textLength="61.2" lengthAdjust="spacingAndGlyphs">2025</text>
<text x="2018.4" y="1604" font-size="26" fill="#4a4a4a" stroke="#4a4a4a" stroke-width="0.45" textLength="43.2" lengthAdjust="spacingAndGlyphs">Mar</text>
<text x="2196.2" y="1604" font-size="26" fill="#4a4a4a" stroke="#4a4a4a" stroke-width="0.45" textLength="47.5" lengthAdjust="spacingAndGlyphs">May</text>
<text x="2382.8" y="1604" font-size="26" fill="#4a4a4a" stroke="#4a4a4a" stroke-width="0.45" textLength="34.3" lengthAdjust="spacingAndGlyphs">Jul</text>
<text x="2538.2" y="1604" font-size="26" fill="#4a4a4a" stroke="#4a4a4a" stroke-width="0.45" textLength="41.7" lengthAdjust="spacingAndGlyphs">Sep</text>
<text x="2716.9" y="1604" font-size="26" fill="#4a4a4a" stroke="#4a4a4a" stroke-width="0.45" textLength="44.1" lengthAdjust="spacingAndGlyphs">Nov</text>
<text x="2888.4" y="1604" font-size="26" fill="#4a4a4a" font-weight="bold" textLength="61.2" lengthAdjust="spacingAndGlyphs">2026</text>
<text x="3057.4" y="1604" font-size="26" fill="#4a4a4a" stroke="#4a4a4a" stroke-width="0.45" textLength="43.2" lengthAdjust="spacingAndGlyphs">Mar</text>
<text x="3235.2" y="1604" font-size="26" fill="#4a4a4a" stroke="#4a4a4a" stroke-width="0.45" textLength="47.5" lengthAdjust="spacingAndGlyphs">May</text>
<text x="3420.8" y="1604" font-size="26" fill="#4a4a4a" stroke="#4a4a4a" stroke-width="0.45" textLength="34.3" lengthAdjust="spacingAndGlyphs">Jul</text>
<text x="25.4" y="48.8" font-size="28.5" fill="#0c0e15" stroke="#0c0e15" stroke-width="0.45" textLength="194.1" lengthAdjust="spacingAndGlyphs">Jake_Simmons</text>
<text x="229.6" y="48.8" font-size="28.5" fill="#0c0e15" stroke="#0c0e15" stroke-width="0.45" textLength="103.5" lengthAdjust="spacingAndGlyphs">created</text>
<text x="344.7" y="48.8" font-size="28.5" fill="#0c0e15" stroke="#0c0e15" stroke-width="0.45" textLength="56.5" lengthAdjust="spacingAndGlyphs">with</text>
<text x="411.3" y="48.8" font-size="28.5" fill="#0c0e15" stroke="#0c0e15" stroke-width="0.45" textLength="234.7" lengthAdjust="spacingAndGlyphs">TradingView.com,</text>
<text x="658.6" y="48.8" font-size="28.5" fill="#0c0e15" stroke="#0c0e15" stroke-width="0.45" textLength="41.9" lengthAdjust="spacingAndGlyphs">Mar</text>
<text x="716.6" y="48.8" font-size="28.5" fill="#0c0e15" stroke="#0c0e15" stroke-width="0.45" textLength="33.8" lengthAdjust="spacingAndGlyphs">31,</text>
<text x="768.1" y="48.8" font-size="28.5" fill="#0c0e15" stroke="#0c0e15" stroke-width="0.45" textLength="62.1" lengthAdjust="spacingAndGlyphs">2026</text>
<text x="841.8" y="48.8" font-size="28.5" fill="#0c0e15" stroke="#0c0e15" stroke-width="0.45" textLength="71.6" lengthAdjust="spacingAndGlyphs">03:54</text>
<text x="924.6" y="48.8" font-size="28.5" fill="#0c0e15" stroke="#0c0e15" stroke-width="0.45" textLength="80.7" lengthAdjust="spacingAndGlyphs">UTC-4</text>
<text x="45.6" y="115.8" font-size="28" fill="#4a4a4a" stroke="#4a4a4a" stroke-width="0.45" textLength="49.2" lengthAdjust="spacingAndGlyphs">XRP</text>
<text x="107.6" y="115.8" font-size="28" fill="#4a4a4a" stroke="#4a4a4a" stroke-width="0.45" textLength="9.0" lengthAdjust="spacingAndGlyphs">/</text>
<text x="130.7" y="115.8" font-size="28" fill="#4a4a4a" stroke="#4a4a4a" stroke-width="0.45" textLength="119.1" lengthAdjust="spacingAndGlyphs">TetherUS</text>
<text x="281.8" y="115.8" font-size="28" fill="#4a4a4a" stroke="#4a4a4a" stroke-width="0.45" textLength="38.5" lengthAdjust="spacingAndGlyphs">1W</text>
<text x="351.5" y="115.8" font-size="28" fill="#4a4a4a" stroke="#4a4a4a" stroke-width="0.45" textLength="103.3" lengthAdjust="spacingAndGlyphs">Binance</text>
<text x="475.3" y="115.8" font-size="28" fill="#4a4a4a" stroke="#4a4a4a" stroke-width="0.45">O</text>
<text x="497" y="115.8" font-size="28" fill="#ef5350" stroke="#ef5350" stroke-width="0.45" textLength="86.7" lengthAdjust="spacingAndGlyphs">1.3279</text>
<text x="604.3" y="115.8" font-size="28" fill="#4a4a4a" stroke="#4a4a4a" stroke-width="0.45">H</text>
<text x="624.8" y="115.8" font-size="28" fill="#ef5350" stroke="#ef5350" stroke-width="0.45" textLength="86.4" lengthAdjust="spacingAndGlyphs">1.3669</text>
<text x="733" y="115.8" font-size="28" fill="#4a4a4a" stroke="#4a4a4a" stroke-width="0.45">L</text>
<text x="747.8" y="115.8" font-size="28" fill="#ef5350" stroke="#ef5350" stroke-width="0.45" textLength="86.6" lengthAdjust="spacingAndGlyphs">1.3143</text>
<text x="855.4" y="115.8" font-size="28" fill="#4a4a4a" stroke="#4a4a4a" stroke-width="0.45">C</text>
<text x="874.6" y="115.8" font-size="28" fill="#ef5350" stroke="#ef5350" stroke-width="0.45" textLength="84.1" lengthAdjust="spacingAndGlyphs">1.3201</text>
<text x="982.8" y="115.8" font-size="28" fill="#ef5350" stroke="#ef5350" stroke-width="0.45" textLength="102.4" lengthAdjust="spacingAndGlyphs">−0.0077</text>
<text x="1098.8" y="115.8" font-size="28" fill="#ef5350" stroke="#ef5350" stroke-width="0.45" textLength="109.4" lengthAdjust="spacingAndGlyphs">(−0.58%)</text>
<text x="45.6" y="157.7" font-size="28" fill="#4a4a4a" stroke="#4a4a4a" stroke-width="0.45" textLength="37.7" lengthAdjust="spacingAndGlyphs">Vol</text>
<text x="115.8" y="157.7" font-size="28" fill="#4a4a4a" stroke="#4a4a4a" stroke-width="0.45" textLength="48.9" lengthAdjust="spacingAndGlyphs">XRP</text>
<text x="185.8" y="157.7" font-size="28" fill="#ef5350" stroke="#ef5350" stroke-width="0.45" textLength="85.8" lengthAdjust="spacingAndGlyphs">134.47</text>
<text x="280.6" y="157.7" font-size="28" fill="#ef5350" stroke="#ef5350" stroke-width="0.45" textLength="21.2" lengthAdjust="spacingAndGlyphs">M</text>
<text x="45.6" y="199.8" font-size="28" fill="#4a4a4a" stroke="#4a4a4a" stroke-width="0.45" textLength="53.8" lengthAdjust="spacingAndGlyphs">EMA</text>
<text x="109.7" y="199.8" font-size="28" fill="#4a4a4a" stroke="#4a4a4a" stroke-width="0.45" textLength="204.2" lengthAdjust="spacingAndGlyphs">20/50/100/200</text>
<text x="333.8" y="199.8" font-size="28" fill="#ff0000" stroke="#ff0000" stroke-width="0.45" textLength="87.7" lengthAdjust="spacingAndGlyphs">1.6952</text>
<text x="444" y="199.8" font-size="28" fill="#ff8000" stroke="#ff8000" stroke-width="0.45" textLength="86.9" lengthAdjust="spacingAndGlyphs">1.9540</text>
<text x="552.1" y="199.8" font-size="28" fill="#00ffff" stroke="#00ffff" stroke-width="0.45" textLength="84.6" lengthAdjust="spacingAndGlyphs">1.7911</text>
<text x="661.1" y="199.8" font-size="28" fill="#0000ff" stroke="#0000ff" stroke-width="0.45" textLength="85.8" lengthAdjust="spacingAndGlyphs">1.4010</text>
<g fill="#4a4a4a"><rect x="262.7" y="106.3" width="5" height="5" rx="1"/><rect x="333.2" y="106.3" width="5" height="5" rx="1"/><rect x="97.5" y="148.2" width="5" height="5" rx="1"/></g>
<text x="46.1" y="1426.3" font-size="28" fill="#4a4a4a" stroke="#4a4a4a" stroke-width="0.45" textLength="37.6" lengthAdjust="spacingAndGlyphs">RSI</text>
<text x="98" y="1426.3" font-size="28" fill="#4a4a4a" stroke="#4a4a4a" stroke-width="0.45" textLength="46.8" lengthAdjust="spacingAndGlyphs">(14,</text>
<text x="157.5" y="1426.3" font-size="28" fill="#4a4a4a" stroke="#4a4a4a" stroke-width="0.45" textLength="78.3" lengthAdjust="spacingAndGlyphs">close)</text>
<text x="257.2" y="1426.3" font-size="28" fill="#7e57c2" stroke="#7e57c2" stroke-width="0.45" textLength="70.9" lengthAdjust="spacingAndGlyphs">32.19</text>
<text x="348.8" y="1426.3" font-size="28" fill="#ffeb3b" stroke="#ffeb3b" stroke-width="0.45" textLength="71.6" lengthAdjust="spacingAndGlyphs">35.02</text>
<text x="443.4" y="1426.3" font-size="28" fill="#4a4a4a" stroke="#4a4a4a" stroke-width="0.45" textLength="22.3" lengthAdjust="spacingAndGlyphs">∅</text>
<text x="490.5" y="1426.3" font-size="28" fill="#4a4a4a" stroke="#4a4a4a" stroke-width="0.45" textLength="22.3" lengthAdjust="spacingAndGlyphs">∅</text>
<g fill="#131313"><path d="M30.2,1684 H60 V1721 H45 V1698.7 H30.2 z"/><circle cx="72.3" cy="1691.6" r="7.5"/><path d="M87.7,1684 H104.8 L90.3,1721 H72.9 z"/></g>
<g fill="#121212">
<rect x="122.4" y="1683.9" width="27.4" height="7.4"/><rect x="132.3" y="1683.9" width="7.6" height="37.3"/>
<path d="M150.1,1721.2 V1694.1 H157.2 V1698.6 C158.8,1695.6 161.6,1694.1 165.8,1694.1 V1701.3 C160.4,1701.3 157.2,1704.2 157.2,1709.4 V1721.2 z"/>
<rect x="187.9" y="1694.1" width="7.1" height="27.1"/>
<rect x="220.1" y="1683.9" width="7.1" height="37.3"/>
<circle cx="236.3" cy="1687" r="4.6"/><rect x="232.6" y="1694.1" width="7.4" height="27.1"/>
<circle cx="346.1" cy="1687" r="4.6"/><rect x="342.4" y="1694.1" width="7.4" height="27.1"/>
<path d="M245,1721.2 V1694.1 H252.1 V1697.6 C254,1694.8 257,1693.4 260.3,1693.4 C266.5,1693.4 269.9,1697.6 269.9,1704.5 V1721.2 H262.8 V1705.6 C262.8,1701.8 261.2,1699.9 258.2,1699.9 C254.6,1699.9 252.1,1702.5 252.1,1706.6 V1721.2 z"/>
<path d="M301.3,1683.9 H309.9 L321.1,1711 L331.3,1683.9 H339.9 L324.7,1721.2 H317.5 z"/>
<path d="M383.1,1694.1 H390.4 L395,1711 L400.9,1694.1 H406.9 L412.5,1711.5 L417.4,1694.1 H425 L416.1,1721.2 H408.9 L403.9,1705 L398.6,1721.2 H391.4 z"/>
<rect x="361" y="1704.4" width="21.7" height="5"/>
</g>
<g fill="none" stroke="#121212" stroke-width="6.9">
<circle cx="181" cy="1707.6" r="10.75"/>
<circle cx="213.7" cy="1707.6" r="10.75"/>
<circle cx="288.6" cy="1707.6" r="10.75"/>
<path d="M299.25,1694.1 V1717 C299.25,1726 295.5,1729.9 288.5,1729.9 C284,1729.9 280.5,1728.8 277.4,1726.6" stroke-width="7.1"/>
<path d="M377.62,1713.45 A10.75,10.75 0 1 1 379.34,1708.16"/>
</g>
</svg>
</body></html>
